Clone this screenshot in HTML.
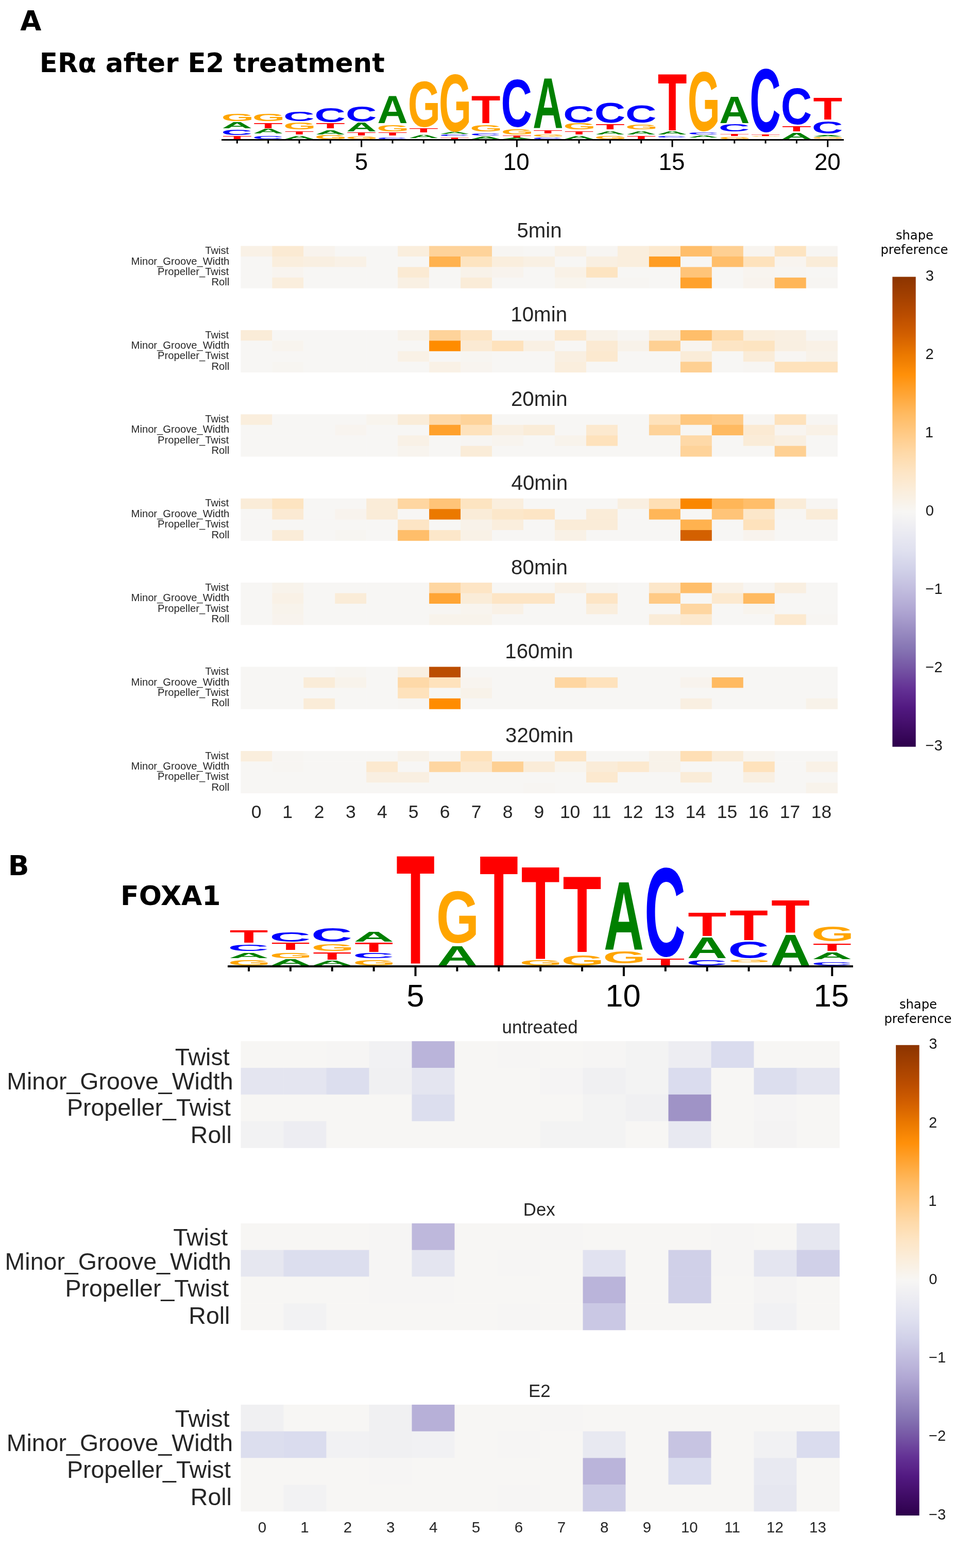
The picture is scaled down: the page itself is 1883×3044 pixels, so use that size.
<!DOCTYPE html>
<html><head><meta charset="utf-8"><title>Figure</title><style>html,body{margin:0;padding:0;background:#fff;}svg{display:block;}</style></head><body>
<svg width="1883" height="3044" viewBox="0 0 1883 3044">
<rect x="0" y="0" width="1883" height="3044" fill="#ffffff"/>
<text x="39.17" y="58.7" font-size="53" font-family="'DejaVu Sans', Verdana, sans-serif" font-weight="bold" text-anchor="start" fill="#000">A</text>
<text x="76.87" y="139.7" font-size="51.4" font-family="'DejaVu Sans', Verdana, sans-serif" font-weight="bold" text-anchor="start" fill="#000">ERα after E2 treatment</text>
<text x="15.69" y="1698.9" font-size="53.5" font-family="'DejaVu Sans', Verdana, sans-serif" font-weight="bold" text-anchor="start" fill="#000">B</text>
<text x="234.12" y="1757.4" font-size="52" font-family="'DejaVu Sans', Verdana, sans-serif" font-weight="bold" text-anchor="start" fill="#000">FOXA1</text>
<text transform="matrix(0.81185 0 0 0.19505 429.65 234.50)" font-size="100" font-family="'Liberation Sans', Arial, sans-serif" font-weight="bold" fill="#ffa500">G</text>
<text transform="matrix(0.81791 0 0 0.16291 430.86 249.30)" font-size="100" font-family="'Liberation Sans', Arial, sans-serif" font-weight="bold" fill="#008000">A</text>
<text transform="matrix(0.83664 0 0 0.14417 429.55 261.56)" font-size="100" font-family="'Liberation Sans', Arial, sans-serif" font-weight="bold" fill="#0000ff">C</text>
<text transform="matrix(0.92881 0 0 0.09164 431.97 269.80)" font-size="100" font-family="'Liberation Sans', Arial, sans-serif" font-weight="bold" fill="#ff0000">T</text>
<text transform="matrix(0.81185 0 0 0.19505 489.99 234.50)" font-size="100" font-family="'Liberation Sans', Arial, sans-serif" font-weight="bold" fill="#ffa500">G</text>
<text transform="matrix(0.92881 0 0 0.14836 492.31 249.30)" font-size="100" font-family="'Liberation Sans', Arial, sans-serif" font-weight="bold" fill="#ff0000">T</text>
<text transform="matrix(0.81791 0 0 0.12073 491.20 259.00)" font-size="100" font-family="'Liberation Sans', Arial, sans-serif" font-weight="bold" fill="#008000">A</text>
<text transform="matrix(0.83664 0 0 0.09470 489.89 269.71)" font-size="100" font-family="'Liberation Sans', Arial, sans-serif" font-weight="bold" fill="#0000ff">C</text>
<text transform="matrix(0.83664 0 0 0.25724 550.23 235.24)" font-size="100" font-family="'Liberation Sans', Arial, sans-serif" font-weight="bold" fill="#0000ff">C</text>
<text transform="matrix(0.81185 0 0 0.19081 550.33 250.51)" font-size="100" font-family="'Liberation Sans', Arial, sans-serif" font-weight="bold" fill="#ffa500">G</text>
<text transform="matrix(0.92881 0 0 0.08436 552.65 260.90)" font-size="100" font-family="'Liberation Sans', Arial, sans-serif" font-weight="bold" fill="#ff0000">T</text>
<text transform="matrix(0.81791 0 0 0.09745 551.54 269.80)" font-size="100" font-family="'Liberation Sans', Arial, sans-serif" font-weight="bold" fill="#008000">A</text>
<text transform="matrix(0.83664 0 0 0.38021 610.57 237.32)" font-size="100" font-family="'Liberation Sans', Arial, sans-serif" font-weight="bold" fill="#0000ff">C</text>
<text transform="matrix(0.92881 0 0 0.14255 612.99 248.60)" font-size="100" font-family="'Liberation Sans', Arial, sans-serif" font-weight="bold" fill="#ff0000">T</text>
<text transform="matrix(0.81791 0 0 0.11636 611.88 261.00)" font-size="100" font-family="'Liberation Sans', Arial, sans-serif" font-weight="bold" fill="#008000">A</text>
<text transform="matrix(0.81185 0 0 0.10035 610.67 269.70)" font-size="100" font-family="'Liberation Sans', Arial, sans-serif" font-weight="bold" fill="#ffa500">G</text>
<text transform="matrix(0.83664 0 0 0.42120 670.91 235.78)" font-size="100" font-family="'Liberation Sans', Arial, sans-serif" font-weight="bold" fill="#0000ff">C</text>
<text transform="matrix(0.81791 0 0 0.23273 672.22 255.10)" font-size="100" font-family="'Liberation Sans', Arial, sans-serif" font-weight="bold" fill="#008000">A</text>
<text transform="matrix(0.92881 0 0 0.08873 673.33 262.70)" font-size="100" font-family="'Liberation Sans', Arial, sans-serif" font-weight="bold" fill="#ff0000">T</text>
<text transform="matrix(0.81185 0 0 0.07350 671.01 269.73)" font-size="100" font-family="'Liberation Sans', Arial, sans-serif" font-weight="bold" fill="#ffa500">G</text>
<text transform="matrix(0.81791 0 0 0.76218 732.56 239.10)" font-size="100" font-family="'Liberation Sans', Arial, sans-serif" font-weight="bold" fill="#008000">A</text>
<text transform="matrix(0.81185 0 0 0.17385 731.35 254.93)" font-size="100" font-family="'Liberation Sans', Arial, sans-serif" font-weight="bold" fill="#ffa500">G</text>
<text transform="matrix(0.92881 0 0 0.08436 733.67 262.70)" font-size="100" font-family="'Liberation Sans', Arial, sans-serif" font-weight="bold" fill="#ff0000">T</text>
<text transform="matrix(0.83664 0 0 0.04240 731.25 269.76)" font-size="100" font-family="'Liberation Sans', Arial, sans-serif" font-weight="bold" fill="#0000ff">C</text>
<text transform="matrix(0.81185 0 0 1.26502 791.69 245.83)" font-size="100" font-family="'Liberation Sans', Arial, sans-serif" font-weight="bold" fill="#ffa500">G</text>
<text transform="matrix(0.92881 0 0 0.11491 794.01 256.90)" font-size="100" font-family="'Liberation Sans', Arial, sans-serif" font-weight="bold" fill="#ff0000">T</text>
<text transform="matrix(0.81791 0 0 0.09455 792.90 267.50)" font-size="100" font-family="'Liberation Sans', Arial, sans-serif" font-weight="bold" fill="#008000">A</text>
<text transform="matrix(0.81185 0 0 1.58304 852.03 253.52)" font-size="100" font-family="'Liberation Sans', Arial, sans-serif" font-weight="bold" fill="#ffa500">G</text>
<text transform="matrix(0.81791 0 0 0.04655 853.24 259.50)" font-size="100" font-family="'Liberation Sans', Arial, sans-serif" font-weight="bold" fill="#008000">A</text>
<text transform="matrix(0.83664 0 0 0.03675 851.93 263.56)" font-size="100" font-family="'Liberation Sans', Arial, sans-serif" font-weight="bold" fill="#0000ff">C</text>
<text transform="matrix(0.92881 0 0 0.04364 854.35 269.80)" font-size="100" font-family="'Liberation Sans', Arial, sans-serif" font-weight="bold" fill="#ff0000">T</text>
<text transform="matrix(0.92881 0 0 0.76218 914.69 239.10)" font-size="100" font-family="'Liberation Sans', Arial, sans-serif" font-weight="bold" fill="#ff0000">T</text>
<text transform="matrix(0.81185 0 0 0.17385 912.37 254.93)" font-size="100" font-family="'Liberation Sans', Arial, sans-serif" font-weight="bold" fill="#ffa500">G</text>
<text transform="matrix(0.83664 0 0 0.06078 912.27 263.04)" font-size="100" font-family="'Liberation Sans', Arial, sans-serif" font-weight="bold" fill="#0000ff">C</text>
<text transform="matrix(0.81791 0 0 0.07564 913.58 269.80)" font-size="100" font-family="'Liberation Sans', Arial, sans-serif" font-weight="bold" fill="#008000">A</text>
<text transform="matrix(0.83664 0 0 1.32580 972.61 245.77)" font-size="100" font-family="'Liberation Sans', Arial, sans-serif" font-weight="bold" fill="#0000ff">C</text>
<text transform="matrix(0.81185 0 0 0.14417 972.71 260.86)" font-size="100" font-family="'Liberation Sans', Arial, sans-serif" font-weight="bold" fill="#ffa500">G</text>
<text transform="matrix(0.92881 0 0 0.06400 975.03 267.50)" font-size="100" font-family="'Liberation Sans', Arial, sans-serif" font-weight="bold" fill="#ff0000">T</text>
<text transform="matrix(0.81791 0 0 0.03345 973.92 269.80)" font-size="100" font-family="'Liberation Sans', Arial, sans-serif" font-weight="bold" fill="#008000">A</text>
<text transform="matrix(0.81791 0 0 1.39636 1034.26 249.30)" font-size="100" font-family="'Liberation Sans', Arial, sans-serif" font-weight="bold" fill="#008000">A</text>
<text transform="matrix(0.92881 0 0 0.08582 1035.37 258.80)" font-size="100" font-family="'Liberation Sans', Arial, sans-serif" font-weight="bold" fill="#ff0000">T</text>
<text transform="matrix(0.81185 0 0 0.06078 1033.05 265.24)" font-size="100" font-family="'Liberation Sans', Arial, sans-serif" font-weight="bold" fill="#ffa500">G</text>
<text transform="matrix(0.83664 0 0 0.04240 1032.95 269.76)" font-size="100" font-family="'Liberation Sans', Arial, sans-serif" font-weight="bold" fill="#0000ff">C</text>
<text transform="matrix(0.83664 0 0 0.46219 1093.29 237.94)" font-size="100" font-family="'Liberation Sans', Arial, sans-serif" font-weight="bold" fill="#0000ff">C</text>
<text transform="matrix(0.81185 0 0 0.16396 1093.39 251.34)" font-size="100" font-family="'Liberation Sans', Arial, sans-serif" font-weight="bold" fill="#ffa500">G</text>
<text transform="matrix(0.92881 0 0 0.09600 1095.71 261.00)" font-size="100" font-family="'Liberation Sans', Arial, sans-serif" font-weight="bold" fill="#ff0000">T</text>
<text transform="matrix(0.81791 0 0 0.09745 1094.60 269.80)" font-size="100" font-family="'Liberation Sans', Arial, sans-serif" font-weight="bold" fill="#008000">A</text>
<text transform="matrix(0.83664 0 0 0.55548 1153.63 237.84)" font-size="100" font-family="'Liberation Sans', Arial, sans-serif" font-weight="bold" fill="#0000ff">C</text>
<text transform="matrix(0.92881 0 0 0.13818 1156.05 250.80)" font-size="100" font-family="'Liberation Sans', Arial, sans-serif" font-weight="bold" fill="#ff0000">T</text>
<text transform="matrix(0.81791 0 0 0.08582 1154.94 261.00)" font-size="100" font-family="'Liberation Sans', Arial, sans-serif" font-weight="bold" fill="#008000">A</text>
<text transform="matrix(0.81185 0 0 0.08339 1153.73 269.72)" font-size="100" font-family="'Liberation Sans', Arial, sans-serif" font-weight="bold" fill="#ffa500">G</text>
<text transform="matrix(0.83664 0 0 0.47350 1213.97 237.93)" font-size="100" font-family="'Liberation Sans', Arial, sans-serif" font-weight="bold" fill="#0000ff">C</text>
<text transform="matrix(0.81185 0 0 0.13428 1214.07 250.67)" font-size="100" font-family="'Liberation Sans', Arial, sans-serif" font-weight="bold" fill="#ffa500">G</text>
<text transform="matrix(0.81791 0 0 0.08582 1215.28 261.00)" font-size="100" font-family="'Liberation Sans', Arial, sans-serif" font-weight="bold" fill="#008000">A</text>
<text transform="matrix(0.92881 0 0 0.09745 1216.39 269.80)" font-size="100" font-family="'Liberation Sans', Arial, sans-serif" font-weight="bold" fill="#ff0000">T</text>
<text transform="matrix(0.92881 0 0 1.57673 1276.73 252.90)" font-size="100" font-family="'Liberation Sans', Arial, sans-serif" font-weight="bold" fill="#ff0000">T</text>
<text transform="matrix(0.81791 0 0 0.08582 1275.62 261.00)" font-size="100" font-family="'Liberation Sans', Arial, sans-serif" font-weight="bold" fill="#008000">A</text>
<text transform="matrix(0.83664 0 0 0.02827 1274.31 266.97)" font-size="100" font-family="'Liberation Sans', Arial, sans-serif" font-weight="bold" fill="#0000ff">C</text>
<text transform="matrix(0.81185 0 0 1.64099 1334.75 253.46)" font-size="100" font-family="'Liberation Sans', Arial, sans-serif" font-weight="bold" fill="#ffa500">G</text>
<text transform="matrix(0.83664 0 0 0.05936 1334.65 261.04)" font-size="100" font-family="'Liberation Sans', Arial, sans-serif" font-weight="bold" fill="#0000ff">C</text>
<text transform="matrix(0.81791 0 0 0.05964 1335.96 267.00)" font-size="100" font-family="'Liberation Sans', Arial, sans-serif" font-weight="bold" fill="#008000">A</text>
<text transform="matrix(0.81791 0 0 0.74327 1396.30 239.00)" font-size="100" font-family="'Liberation Sans', Arial, sans-serif" font-weight="bold" fill="#008000">A</text>
<text transform="matrix(0.83664 0 0 0.21060 1394.99 255.49)" font-size="100" font-family="'Liberation Sans', Arial, sans-serif" font-weight="bold" fill="#0000ff">C</text>
<text transform="matrix(0.92881 0 0 0.06109 1397.41 263.50)" font-size="100" font-family="'Liberation Sans', Arial, sans-serif" font-weight="bold" fill="#ff0000">T</text>
<text transform="matrix(0.81185 0 0 0.04806 1395.09 269.75)" font-size="100" font-family="'Liberation Sans', Arial, sans-serif" font-weight="bold" fill="#ffa500">G</text>
<text transform="matrix(0.83664 0 0 1.74841 1455.33 255.15)" font-size="100" font-family="'Liberation Sans', Arial, sans-serif" font-weight="bold" fill="#0000ff">C</text>
<text transform="matrix(0.92881 0 0 0.03782 1457.75 263.50)" font-size="100" font-family="'Liberation Sans', Arial, sans-serif" font-weight="bold" fill="#ff0000">T</text>
<text transform="matrix(0.81185 0 0 0.02120 1455.43 265.48)" font-size="100" font-family="'Liberation Sans', Arial, sans-serif" font-weight="bold" fill="#ffa500">G</text>
<text transform="matrix(0.83664 0 0 1.01060 1515.67 241.39)" font-size="100" font-family="'Liberation Sans', Arial, sans-serif" font-weight="bold" fill="#0000ff">C</text>
<text transform="matrix(0.92881 0 0 0.15418 1518.09 254.90)" font-size="100" font-family="'Liberation Sans', Arial, sans-serif" font-weight="bold" fill="#ff0000">T</text>
<text transform="matrix(0.81791 0 0 0.15855 1516.98 269.80)" font-size="100" font-family="'Liberation Sans', Arial, sans-serif" font-weight="bold" fill="#008000">A</text>
<text transform="matrix(0.92881 0 0 0.60509 1578.43 232.40)" font-size="100" font-family="'Liberation Sans', Arial, sans-serif" font-weight="bold" fill="#ff0000">T</text>
<text transform="matrix(0.83664 0 0 0.33640 1576.01 258.56)" font-size="100" font-family="'Liberation Sans', Arial, sans-serif" font-weight="bold" fill="#0000ff">C</text>
<text transform="matrix(0.81791 0 0 0.02764 1577.32 264.80)" font-size="100" font-family="'Liberation Sans', Arial, sans-serif" font-weight="bold" fill="#008000">A</text>
<text transform="matrix(0.81185 0 0 0.02827 1576.11 268.77)" font-size="100" font-family="'Liberation Sans', Arial, sans-serif" font-weight="bold" fill="#ffa500">G</text>
<text transform="matrix(1.22881 0 0 0.34909 445.52 1829.80)" font-size="100" font-family="'Liberation Sans', Arial, sans-serif" font-weight="bold" fill="#ff0000">T</text>
<text transform="matrix(1.10687 0 0 0.16961 442.32 1846.43)" font-size="100" font-family="'Liberation Sans', Arial, sans-serif" font-weight="bold" fill="#0000ff">C</text>
<text transform="matrix(1.08209 0 0 0.14982 444.04 1859.70)" font-size="100" font-family="'Liberation Sans', Arial, sans-serif" font-weight="bold" fill="#008000">A</text>
<text transform="matrix(1.07407 0 0 0.14134 442.45 1873.86)" font-size="100" font-family="'Liberation Sans', Arial, sans-serif" font-weight="bold" fill="#ffa500">G</text>
<text transform="matrix(1.10687 0 0 0.25300 523.20 1828.25)" font-size="100" font-family="'Liberation Sans', Arial, sans-serif" font-weight="bold" fill="#0000ff">C</text>
<text transform="matrix(1.22881 0 0 0.20218 526.40 1843.70)" font-size="100" font-family="'Liberation Sans', Arial, sans-serif" font-weight="bold" fill="#ff0000">T</text>
<text transform="matrix(1.07407 0 0 0.15406 523.33 1860.15)" font-size="100" font-family="'Liberation Sans', Arial, sans-serif" font-weight="bold" fill="#ffa500">G</text>
<text transform="matrix(1.08209 0 0 0.16727 524.92 1874.00)" font-size="100" font-family="'Liberation Sans', Arial, sans-serif" font-weight="bold" fill="#008000">A</text>
<text transform="matrix(1.10687 0 0 0.36184 604.08 1828.14)" font-size="100" font-family="'Liberation Sans', Arial, sans-serif" font-weight="bold" fill="#0000ff">C</text>
<text transform="matrix(1.07407 0 0 0.19081 604.21 1845.71)" font-size="100" font-family="'Liberation Sans', Arial, sans-serif" font-weight="bold" fill="#ffa500">G</text>
<text transform="matrix(1.22881 0 0 0.20073 607.28 1862.50)" font-size="100" font-family="'Liberation Sans', Arial, sans-serif" font-weight="bold" fill="#ff0000">T</text>
<text transform="matrix(1.08209 0 0 0.12945 605.80 1874.00)" font-size="100" font-family="'Liberation Sans', Arial, sans-serif" font-weight="bold" fill="#008000">A</text>
<text transform="matrix(1.08209 0 0 0.27927 686.68 1827.60)" font-size="100" font-family="'Liberation Sans', Arial, sans-serif" font-weight="bold" fill="#008000">A</text>
<text transform="matrix(1.22881 0 0 0.25455 688.16 1848.10)" font-size="100" font-family="'Liberation Sans', Arial, sans-serif" font-weight="bold" fill="#ff0000">T</text>
<text transform="matrix(1.10687 0 0 0.15406 684.96 1860.15)" font-size="100" font-family="'Liberation Sans', Arial, sans-serif" font-weight="bold" fill="#0000ff">C</text>
<text transform="matrix(1.07407 0 0 0.14134 685.09 1873.86)" font-size="100" font-family="'Liberation Sans', Arial, sans-serif" font-weight="bold" fill="#ffa500">G</text>
<text transform="matrix(1.22881 0 0 3.02400 769.04 1870.50)" font-size="100" font-family="'Liberation Sans', Arial, sans-serif" font-weight="bold" fill="#ff0000">T</text>
<text transform="matrix(1.07407 0 0 1.43039 846.85 1830.27)" font-size="100" font-family="'Liberation Sans', Arial, sans-serif" font-weight="bold" fill="#ffa500">G</text>
<text transform="matrix(1.08209 0 0 0.52945 848.44 1874.00)" font-size="100" font-family="'Liberation Sans', Arial, sans-serif" font-weight="bold" fill="#008000">A</text>
<text transform="matrix(1.22881 0 0 3.06764 930.80 1874.00)" font-size="100" font-family="'Liberation Sans', Arial, sans-serif" font-weight="bold" fill="#ff0000">T</text>
<text transform="matrix(1.22881 0 0 2.58036 1011.68 1861.40)" font-size="100" font-family="'Liberation Sans', Arial, sans-serif" font-weight="bold" fill="#ff0000">T</text>
<text transform="matrix(1.07407 0 0 0.14417 1008.61 1873.86)" font-size="100" font-family="'Liberation Sans', Arial, sans-serif" font-weight="bold" fill="#ffa500">G</text>
<text transform="matrix(1.22881 0 0 2.11927 1092.56 1848.10)" font-size="100" font-family="'Liberation Sans', Arial, sans-serif" font-weight="bold" fill="#ff0000">T</text>
<text transform="matrix(1.07407 0 0 0.28269 1089.49 1873.72)" font-size="100" font-family="'Liberation Sans', Arial, sans-serif" font-weight="bold" fill="#ffa500">G</text>
<text transform="matrix(1.08209 0 0 1.89673 1171.96 1843.30)" font-size="100" font-family="'Liberation Sans', Arial, sans-serif" font-weight="bold" fill="#008000">A</text>
<text transform="matrix(1.07407 0 0 0.33640 1170.37 1870.36)" font-size="100" font-family="'Liberation Sans', Arial, sans-serif" font-weight="bold" fill="#ffa500">G</text>
<text transform="matrix(1.10687 0 0 2.45654 1251.12 1856.34)" font-size="100" font-family="'Liberation Sans', Arial, sans-serif" font-weight="bold" fill="#0000ff">C</text>
<text transform="matrix(1.22881 0 0 0.17600 1254.32 1874.00)" font-size="100" font-family="'Liberation Sans', Arial, sans-serif" font-weight="bold" fill="#ff0000">T</text>
<text transform="matrix(1.22881 0 0 0.65455 1335.20 1816.70)" font-size="100" font-family="'Liberation Sans', Arial, sans-serif" font-weight="bold" fill="#ff0000">T</text>
<text transform="matrix(1.08209 0 0 0.57891 1333.72 1859.90)" font-size="100" font-family="'Liberation Sans', Arial, sans-serif" font-weight="bold" fill="#008000">A</text>
<text transform="matrix(1.10687 0 0 0.14276 1332.00 1873.86)" font-size="100" font-family="'Liberation Sans', Arial, sans-serif" font-weight="bold" fill="#0000ff">C</text>
<text transform="matrix(1.22881 0 0 0.84073 1416.08 1824.60)" font-size="100" font-family="'Liberation Sans', Arial, sans-serif" font-weight="bold" fill="#ff0000">T</text>
<text transform="matrix(1.10687 0 0 0.46643 1412.88 1860.03)" font-size="100" font-family="'Liberation Sans', Arial, sans-serif" font-weight="bold" fill="#0000ff">C</text>
<text transform="matrix(1.07407 0 0 0.06360 1413.01 1868.34)" font-size="100" font-family="'Liberation Sans', Arial, sans-serif" font-weight="bold" fill="#ffa500">G</text>
<text transform="matrix(1.22881 0 0 0.90618 1496.96 1811.10)" font-size="100" font-family="'Liberation Sans', Arial, sans-serif" font-weight="bold" fill="#ff0000">T</text>
<text transform="matrix(1.08209 0 0 0.84945 1495.48 1874.00)" font-size="100" font-family="'Liberation Sans', Arial, sans-serif" font-weight="bold" fill="#008000">A</text>
<text transform="matrix(1.07407 0 0 0.40707 1574.77 1827.09)" font-size="100" font-family="'Liberation Sans', Arial, sans-serif" font-weight="bold" fill="#ffa500">G</text>
<text transform="matrix(1.22881 0 0 0.20218 1577.84 1845.90)" font-size="100" font-family="'Liberation Sans', Arial, sans-serif" font-weight="bold" fill="#ff0000">T</text>
<text transform="matrix(1.08209 0 0 0.18618 1576.36 1862.10)" font-size="100" font-family="'Liberation Sans', Arial, sans-serif" font-weight="bold" fill="#008000">A</text>
<text transform="matrix(1.10687 0 0 0.09470 1574.64 1873.91)" font-size="100" font-family="'Liberation Sans', Arial, sans-serif" font-weight="bold" fill="#0000ff">C</text>
<rect x="430" y="270" width="1208" height="3" fill="#000"/>
<rect x="458.80" y="272" width="3" height="6.5" fill="#000"/>
<rect x="519.14" y="272" width="3" height="6.5" fill="#000"/>
<rect x="579.48" y="272" width="3" height="6.5" fill="#000"/>
<rect x="639.82" y="272" width="3" height="6.5" fill="#000"/>
<rect x="700.16" y="272" width="3" height="13.5" fill="#000"/>
<rect x="760.50" y="272" width="3" height="6.5" fill="#000"/>
<rect x="820.84" y="272" width="3" height="6.5" fill="#000"/>
<rect x="881.18" y="272" width="3" height="6.5" fill="#000"/>
<rect x="941.52" y="272" width="3" height="6.5" fill="#000"/>
<rect x="1001.86" y="272" width="3" height="13.5" fill="#000"/>
<rect x="1062.20" y="272" width="3" height="6.5" fill="#000"/>
<rect x="1122.54" y="272" width="3" height="6.5" fill="#000"/>
<rect x="1182.88" y="272" width="3" height="6.5" fill="#000"/>
<rect x="1243.22" y="272" width="3" height="6.5" fill="#000"/>
<rect x="1303.56" y="272" width="3" height="13.5" fill="#000"/>
<rect x="1363.90" y="272" width="3" height="6.5" fill="#000"/>
<rect x="1424.24" y="272" width="3" height="6.5" fill="#000"/>
<rect x="1484.58" y="272" width="3" height="6.5" fill="#000"/>
<rect x="1544.92" y="272" width="3" height="6.5" fill="#000"/>
<rect x="1605.26" y="272" width="3" height="13.5" fill="#000"/>
<text x="688.84" y="330.2" font-size="45.8" font-family="'Liberation Sans', Arial, sans-serif" font-weight="normal" text-anchor="start" fill="#000">5</text>
<text x="976.8" y="330.2" font-size="45.8" font-family="'Liberation Sans', Arial, sans-serif" font-weight="normal" text-anchor="start" fill="#000">10</text>
<text x="1278.5" y="330.2" font-size="45.8" font-family="'Liberation Sans', Arial, sans-serif" font-weight="normal" text-anchor="start" fill="#000">15</text>
<text x="1580.88" y="330.2" font-size="45.8" font-family="'Liberation Sans', Arial, sans-serif" font-weight="normal" text-anchor="start" fill="#000">20</text>
<rect x="442" y="1874" width="1214" height="4" fill="#000"/>
<rect x="481.00" y="1877" width="4" height="8.7" fill="#000"/>
<rect x="561.88" y="1877" width="4" height="8.7" fill="#000"/>
<rect x="642.76" y="1877" width="4" height="8.7" fill="#000"/>
<rect x="723.64" y="1877" width="4" height="8.7" fill="#000"/>
<rect x="804.52" y="1877" width="4" height="18" fill="#000"/>
<rect x="885.40" y="1877" width="4" height="8.7" fill="#000"/>
<rect x="966.28" y="1877" width="4" height="8.7" fill="#000"/>
<rect x="1047.16" y="1877" width="4" height="8.7" fill="#000"/>
<rect x="1128.04" y="1877" width="4" height="8.7" fill="#000"/>
<rect x="1208.92" y="1877" width="4" height="18" fill="#000"/>
<rect x="1289.80" y="1877" width="4" height="8.7" fill="#000"/>
<rect x="1370.68" y="1877" width="4" height="8.7" fill="#000"/>
<rect x="1451.56" y="1877" width="4" height="8.7" fill="#000"/>
<rect x="1532.44" y="1877" width="4" height="8.7" fill="#000"/>
<rect x="1613.32" y="1877" width="4" height="18" fill="#000"/>
<text x="789.3" y="1954.4" font-size="61.5" font-family="'Liberation Sans', Arial, sans-serif" font-weight="normal" text-anchor="start" fill="#000">5</text>
<text x="1175.25" y="1954.4" font-size="61.5" font-family="'Liberation Sans', Arial, sans-serif" font-weight="normal" text-anchor="start" fill="#000">10</text>
<text x="1579.65" y="1954.4" font-size="61.5" font-family="'Liberation Sans', Arial, sans-serif" font-weight="normal" text-anchor="start" fill="#000">15</text>
<rect x="467.30" y="477.50" width="61.37" height="20.85" fill="#f9f1e6"/>
<rect x="528.27" y="477.50" width="61.37" height="20.85" fill="#fbead3"/>
<rect x="589.24" y="477.50" width="61.37" height="20.85" fill="#f8f3ed"/>
<rect x="650.21" y="477.50" width="61.37" height="20.85" fill="#f7f6f4"/>
<rect x="711.18" y="477.50" width="61.37" height="20.85" fill="#f7f6f4"/>
<rect x="772.15" y="477.50" width="61.37" height="20.85" fill="#faeedd"/>
<rect x="833.12" y="477.50" width="61.37" height="20.85" fill="#fed39a"/>
<rect x="894.09" y="477.50" width="61.37" height="20.85" fill="#fed39a"/>
<rect x="955.06" y="477.50" width="61.37" height="20.85" fill="#f7f5f2"/>
<rect x="1016.03" y="477.50" width="61.37" height="20.85" fill="#f7f6f4"/>
<rect x="1077.00" y="477.50" width="61.37" height="20.85" fill="#f9f1e6"/>
<rect x="1137.97" y="477.50" width="61.37" height="20.85" fill="#f7f5f2"/>
<rect x="1198.94" y="477.50" width="61.37" height="20.85" fill="#faeedd"/>
<rect x="1259.91" y="477.50" width="61.37" height="20.85" fill="#fce9cf"/>
<rect x="1320.88" y="477.50" width="61.37" height="20.85" fill="#ffbe6a"/>
<rect x="1381.85" y="477.50" width="61.37" height="20.85" fill="#fed093"/>
<rect x="1442.82" y="477.50" width="61.37" height="20.85" fill="#f8f4ef"/>
<rect x="1503.79" y="477.50" width="61.37" height="20.85" fill="#fde4c1"/>
<rect x="1564.76" y="477.50" width="61.37" height="20.85" fill="#f7f5f2"/>
<rect x="467.30" y="497.95" width="61.37" height="20.85" fill="#f7f6f4"/>
<rect x="528.27" y="497.95" width="61.37" height="20.85" fill="#faeedd"/>
<rect x="589.24" y="497.95" width="61.37" height="20.85" fill="#f9efe1"/>
<rect x="650.21" y="497.95" width="61.37" height="20.85" fill="#f9f1e6"/>
<rect x="711.18" y="497.95" width="61.37" height="20.85" fill="#f7f6f4"/>
<rect x="772.15" y="497.95" width="61.37" height="20.85" fill="#f7f6f4"/>
<rect x="833.12" y="497.95" width="61.37" height="20.85" fill="#ffb24f"/>
<rect x="894.09" y="497.95" width="61.37" height="20.85" fill="#fde4c1"/>
<rect x="955.06" y="497.95" width="61.37" height="20.85" fill="#faeedd"/>
<rect x="1016.03" y="497.95" width="61.37" height="20.85" fill="#f9f0e3"/>
<rect x="1077.00" y="497.95" width="61.37" height="20.85" fill="#f7f6f4"/>
<rect x="1137.97" y="497.95" width="61.37" height="20.85" fill="#f9efe1"/>
<rect x="1198.94" y="497.95" width="61.37" height="20.85" fill="#faeedd"/>
<rect x="1259.91" y="497.95" width="61.37" height="20.85" fill="#ff9d23"/>
<rect x="1320.88" y="497.95" width="61.37" height="20.85" fill="#f7f6f4"/>
<rect x="1381.85" y="497.95" width="61.37" height="20.85" fill="#ffbe6a"/>
<rect x="1442.82" y="497.95" width="61.37" height="20.85" fill="#fee2bc"/>
<rect x="1503.79" y="497.95" width="61.37" height="20.85" fill="#f8f4ef"/>
<rect x="1564.76" y="497.95" width="61.37" height="20.85" fill="#faecd8"/>
<rect x="467.30" y="518.40" width="61.37" height="20.85" fill="#f7f6f4"/>
<rect x="528.27" y="518.40" width="61.37" height="20.85" fill="#f8f4ef"/>
<rect x="589.24" y="518.40" width="61.37" height="20.85" fill="#f7f6f4"/>
<rect x="650.21" y="518.40" width="61.37" height="20.85" fill="#f7f6f4"/>
<rect x="711.18" y="518.40" width="61.37" height="20.85" fill="#f7f6f4"/>
<rect x="772.15" y="518.40" width="61.37" height="20.85" fill="#fbead3"/>
<rect x="833.12" y="518.40" width="61.37" height="20.85" fill="#f7f6f4"/>
<rect x="894.09" y="518.40" width="61.37" height="20.85" fill="#f8f2e9"/>
<rect x="955.06" y="518.40" width="61.37" height="20.85" fill="#f8f3ed"/>
<rect x="1016.03" y="518.40" width="61.37" height="20.85" fill="#f7f6f4"/>
<rect x="1077.00" y="518.40" width="61.37" height="20.85" fill="#f9f1e6"/>
<rect x="1137.97" y="518.40" width="61.37" height="20.85" fill="#fde4c1"/>
<rect x="1198.94" y="518.40" width="61.37" height="20.85" fill="#f7f6f4"/>
<rect x="1259.91" y="518.40" width="61.37" height="20.85" fill="#f7f6f4"/>
<rect x="1320.88" y="518.40" width="61.37" height="20.85" fill="#ffc478"/>
<rect x="1381.85" y="518.40" width="61.37" height="20.85" fill="#f7f6f4"/>
<rect x="1442.82" y="518.40" width="61.37" height="20.85" fill="#f8f4ef"/>
<rect x="1503.79" y="518.40" width="61.37" height="20.85" fill="#f7f5f2"/>
<rect x="1564.76" y="518.40" width="61.37" height="20.85" fill="#f7f6f4"/>
<rect x="467.30" y="538.85" width="61.37" height="20.85" fill="#f7f6f4"/>
<rect x="528.27" y="538.85" width="61.37" height="20.85" fill="#faeedd"/>
<rect x="589.24" y="538.85" width="61.37" height="20.85" fill="#f7f6f4"/>
<rect x="650.21" y="538.85" width="61.37" height="20.85" fill="#f7f6f4"/>
<rect x="711.18" y="538.85" width="61.37" height="20.85" fill="#f7f6f4"/>
<rect x="772.15" y="538.85" width="61.37" height="20.85" fill="#f9f0e3"/>
<rect x="833.12" y="538.85" width="61.37" height="20.85" fill="#f7f6f4"/>
<rect x="894.09" y="538.85" width="61.37" height="20.85" fill="#faecd8"/>
<rect x="955.06" y="538.85" width="61.37" height="20.85" fill="#f7f6f4"/>
<rect x="1016.03" y="538.85" width="61.37" height="20.85" fill="#f7f6f4"/>
<rect x="1077.00" y="538.85" width="61.37" height="20.85" fill="#f8f4ed"/>
<rect x="1137.97" y="538.85" width="61.37" height="20.85" fill="#f7f5f2"/>
<rect x="1198.94" y="538.85" width="61.37" height="20.85" fill="#f7f5f2"/>
<rect x="1259.91" y="538.85" width="61.37" height="20.85" fill="#f7f6f4"/>
<rect x="1320.88" y="538.85" width="61.37" height="20.85" fill="#ffa12c"/>
<rect x="1381.85" y="538.85" width="61.37" height="20.85" fill="#f7f6f4"/>
<rect x="1442.82" y="538.85" width="61.37" height="20.85" fill="#f8f3ed"/>
<rect x="1503.79" y="538.85" width="61.37" height="20.85" fill="#ffb658"/>
<rect x="1564.76" y="538.85" width="61.37" height="20.85" fill="#f7f5f2"/>
<text x="1003.39" y="461" font-size="40.3" font-family="'Liberation Sans', Arial, sans-serif" font-weight="normal" text-anchor="start" fill="#262626">5min</text>
<text x="444.16" y="493.12" font-size="20.2" font-family="'Liberation Sans', Arial, sans-serif" font-weight="normal" text-anchor="end" fill="#262626">Twist</text>
<text x="445.37" y="513.58" font-size="20.2" font-family="'Liberation Sans', Arial, sans-serif" font-weight="normal" text-anchor="end" fill="#262626">Minor_Groove_Width</text>
<text x="444.11" y="534.02" font-size="20.2" font-family="'Liberation Sans', Arial, sans-serif" font-weight="normal" text-anchor="end" fill="#262626">Propeller_Twist</text>
<text x="445.27" y="554.48" font-size="20.2" font-family="'Liberation Sans', Arial, sans-serif" font-weight="normal" text-anchor="end" fill="#262626">Roll</text>
<rect x="467.30" y="640.90" width="61.37" height="20.85" fill="#faecd8"/>
<rect x="528.27" y="640.90" width="61.37" height="20.85" fill="#f7f6f4"/>
<rect x="589.24" y="640.90" width="61.37" height="20.85" fill="#f7f6f4"/>
<rect x="650.21" y="640.90" width="61.37" height="20.85" fill="#f7f6f4"/>
<rect x="711.18" y="640.90" width="61.37" height="20.85" fill="#f7f6f4"/>
<rect x="772.15" y="640.90" width="61.37" height="20.85" fill="#f8f2e9"/>
<rect x="833.12" y="640.90" width="61.37" height="20.85" fill="#fed39a"/>
<rect x="894.09" y="640.90" width="61.37" height="20.85" fill="#fde5c5"/>
<rect x="955.06" y="640.90" width="61.37" height="20.85" fill="#f7f6f4"/>
<rect x="1016.03" y="640.90" width="61.37" height="20.85" fill="#f7f6f4"/>
<rect x="1077.00" y="640.90" width="61.37" height="20.85" fill="#fce9cf"/>
<rect x="1137.97" y="640.90" width="61.37" height="20.85" fill="#f8f2e9"/>
<rect x="1198.94" y="640.90" width="61.37" height="20.85" fill="#f7f5f2"/>
<rect x="1259.91" y="640.90" width="61.37" height="20.85" fill="#faecd8"/>
<rect x="1320.88" y="640.90" width="61.37" height="20.85" fill="#ffbe6a"/>
<rect x="1381.85" y="640.90" width="61.37" height="20.85" fill="#fedcae"/>
<rect x="1442.82" y="640.90" width="61.37" height="20.85" fill="#faeedd"/>
<rect x="1503.79" y="640.90" width="61.37" height="20.85" fill="#f9efe1"/>
<rect x="1564.76" y="640.90" width="61.37" height="20.85" fill="#f7f5f2"/>
<rect x="467.30" y="661.35" width="61.37" height="20.85" fill="#f7f6f4"/>
<rect x="528.27" y="661.35" width="61.37" height="20.85" fill="#f8f4ee"/>
<rect x="589.24" y="661.35" width="61.37" height="20.85" fill="#f7f6f4"/>
<rect x="650.21" y="661.35" width="61.37" height="20.85" fill="#f7f6f4"/>
<rect x="711.18" y="661.35" width="61.37" height="20.85" fill="#f7f6f4"/>
<rect x="772.15" y="661.35" width="61.37" height="20.85" fill="#f7f6f4"/>
<rect x="833.12" y="661.35" width="61.37" height="20.85" fill="#ff8c00"/>
<rect x="894.09" y="661.35" width="61.37" height="20.85" fill="#fbead3"/>
<rect x="955.06" y="661.35" width="61.37" height="20.85" fill="#fee2bc"/>
<rect x="1016.03" y="661.35" width="61.37" height="20.85" fill="#f9f0e3"/>
<rect x="1077.00" y="661.35" width="61.37" height="20.85" fill="#f7f6f4"/>
<rect x="1137.97" y="661.35" width="61.37" height="20.85" fill="#fbead3"/>
<rect x="1198.94" y="661.35" width="61.37" height="20.85" fill="#f8f2e9"/>
<rect x="1259.91" y="661.35" width="61.37" height="20.85" fill="#fed093"/>
<rect x="1320.88" y="661.35" width="61.37" height="20.85" fill="#f8f4ef"/>
<rect x="1381.85" y="661.35" width="61.37" height="20.85" fill="#fde5c5"/>
<rect x="1442.82" y="661.35" width="61.37" height="20.85" fill="#fde4c1"/>
<rect x="1503.79" y="661.35" width="61.37" height="20.85" fill="#f9efe1"/>
<rect x="1564.76" y="661.35" width="61.37" height="20.85" fill="#f9f1e6"/>
<rect x="467.30" y="681.80" width="61.37" height="20.85" fill="#f7f6f4"/>
<rect x="528.27" y="681.80" width="61.37" height="20.85" fill="#f7f6f4"/>
<rect x="589.24" y="681.80" width="61.37" height="20.85" fill="#f7f6f4"/>
<rect x="650.21" y="681.80" width="61.37" height="20.85" fill="#f7f6f4"/>
<rect x="711.18" y="681.80" width="61.37" height="20.85" fill="#f7f6f4"/>
<rect x="772.15" y="681.80" width="61.37" height="20.85" fill="#f9f1e6"/>
<rect x="833.12" y="681.80" width="61.37" height="20.85" fill="#f7f6f4"/>
<rect x="894.09" y="681.80" width="61.37" height="20.85" fill="#f7f5f1"/>
<rect x="955.06" y="681.80" width="61.37" height="20.85" fill="#f7f6f4"/>
<rect x="1016.03" y="681.80" width="61.37" height="20.85" fill="#f7f6f4"/>
<rect x="1077.00" y="681.80" width="61.37" height="20.85" fill="#f9efe1"/>
<rect x="1137.97" y="681.80" width="61.37" height="20.85" fill="#fce9cf"/>
<rect x="1198.94" y="681.80" width="61.37" height="20.85" fill="#f7f6f4"/>
<rect x="1259.91" y="681.80" width="61.37" height="20.85" fill="#f7f6f4"/>
<rect x="1320.88" y="681.80" width="61.37" height="20.85" fill="#faecd8"/>
<rect x="1381.85" y="681.80" width="61.37" height="20.85" fill="#f7f6f4"/>
<rect x="1442.82" y="681.80" width="61.37" height="20.85" fill="#faecd8"/>
<rect x="1503.79" y="681.80" width="61.37" height="20.85" fill="#f7f5f2"/>
<rect x="1564.76" y="681.80" width="61.37" height="20.85" fill="#f8f2e9"/>
<rect x="467.30" y="702.25" width="61.37" height="20.85" fill="#f7f6f4"/>
<rect x="528.27" y="702.25" width="61.37" height="20.85" fill="#f7f5f1"/>
<rect x="589.24" y="702.25" width="61.37" height="20.85" fill="#f7f6f4"/>
<rect x="650.21" y="702.25" width="61.37" height="20.85" fill="#f7f6f4"/>
<rect x="711.18" y="702.25" width="61.37" height="20.85" fill="#f7f6f4"/>
<rect x="772.15" y="702.25" width="61.37" height="20.85" fill="#f7f6f4"/>
<rect x="833.12" y="702.25" width="61.37" height="20.85" fill="#f9f1e6"/>
<rect x="894.09" y="702.25" width="61.37" height="20.85" fill="#f8f4ef"/>
<rect x="955.06" y="702.25" width="61.37" height="20.85" fill="#f7f6f4"/>
<rect x="1016.03" y="702.25" width="61.37" height="20.85" fill="#f7f6f4"/>
<rect x="1077.00" y="702.25" width="61.37" height="20.85" fill="#faeedd"/>
<rect x="1137.97" y="702.25" width="61.37" height="20.85" fill="#f7f6f4"/>
<rect x="1198.94" y="702.25" width="61.37" height="20.85" fill="#f7f6f4"/>
<rect x="1259.91" y="702.25" width="61.37" height="20.85" fill="#f7f6f4"/>
<rect x="1320.88" y="702.25" width="61.37" height="20.85" fill="#fed093"/>
<rect x="1381.85" y="702.25" width="61.37" height="20.85" fill="#f7f6f4"/>
<rect x="1442.82" y="702.25" width="61.37" height="20.85" fill="#f7f5f2"/>
<rect x="1503.79" y="702.25" width="61.37" height="20.85" fill="#fee2bc"/>
<rect x="1564.76" y="702.25" width="61.37" height="20.85" fill="#fee2bc"/>
<text x="991.3" y="624.4" font-size="40.3" font-family="'Liberation Sans', Arial, sans-serif" font-weight="normal" text-anchor="start" fill="#262626">10min</text>
<text x="444.16" y="656.52" font-size="20.2" font-family="'Liberation Sans', Arial, sans-serif" font-weight="normal" text-anchor="end" fill="#262626">Twist</text>
<text x="445.37" y="676.98" font-size="20.2" font-family="'Liberation Sans', Arial, sans-serif" font-weight="normal" text-anchor="end" fill="#262626">Minor_Groove_Width</text>
<text x="444.11" y="697.42" font-size="20.2" font-family="'Liberation Sans', Arial, sans-serif" font-weight="normal" text-anchor="end" fill="#262626">Propeller_Twist</text>
<text x="445.27" y="717.88" font-size="20.2" font-family="'Liberation Sans', Arial, sans-serif" font-weight="normal" text-anchor="end" fill="#262626">Roll</text>
<rect x="467.30" y="804.30" width="61.37" height="20.85" fill="#faeedd"/>
<rect x="528.27" y="804.30" width="61.37" height="20.85" fill="#f7f6f4"/>
<rect x="589.24" y="804.30" width="61.37" height="20.85" fill="#f7f6f4"/>
<rect x="650.21" y="804.30" width="61.37" height="20.85" fill="#f7f6f4"/>
<rect x="711.18" y="804.30" width="61.37" height="20.85" fill="#f8f4ed"/>
<rect x="772.15" y="804.30" width="61.37" height="20.85" fill="#faecd8"/>
<rect x="833.12" y="804.30" width="61.37" height="20.85" fill="#fed9a8"/>
<rect x="894.09" y="804.30" width="61.37" height="20.85" fill="#fed39a"/>
<rect x="955.06" y="804.30" width="61.37" height="20.85" fill="#f7f6f4"/>
<rect x="1016.03" y="804.30" width="61.37" height="20.85" fill="#f7f6f4"/>
<rect x="1077.00" y="804.30" width="61.37" height="20.85" fill="#f7f6f4"/>
<rect x="1137.97" y="804.30" width="61.37" height="20.85" fill="#f7f6f4"/>
<rect x="1198.94" y="804.30" width="61.37" height="20.85" fill="#f7f6f4"/>
<rect x="1259.91" y="804.30" width="61.37" height="20.85" fill="#fee2bc"/>
<rect x="1320.88" y="804.30" width="61.37" height="20.85" fill="#ffc77e"/>
<rect x="1381.85" y="804.30" width="61.37" height="20.85" fill="#ffca85"/>
<rect x="1442.82" y="804.30" width="61.37" height="20.85" fill="#f7f5f2"/>
<rect x="1503.79" y="804.30" width="61.37" height="20.85" fill="#fee2bc"/>
<rect x="1564.76" y="804.30" width="61.37" height="20.85" fill="#f7f5f2"/>
<rect x="467.30" y="824.75" width="61.37" height="20.85" fill="#f7f6f4"/>
<rect x="528.27" y="824.75" width="61.37" height="20.85" fill="#f7f6f4"/>
<rect x="589.24" y="824.75" width="61.37" height="20.85" fill="#f7f6f4"/>
<rect x="650.21" y="824.75" width="61.37" height="20.85" fill="#f8f4ef"/>
<rect x="711.18" y="824.75" width="61.37" height="20.85" fill="#f7f6f4"/>
<rect x="772.15" y="824.75" width="61.37" height="20.85" fill="#f7f6f4"/>
<rect x="833.12" y="824.75" width="61.37" height="20.85" fill="#ffa12c"/>
<rect x="894.09" y="824.75" width="61.37" height="20.85" fill="#fee2bc"/>
<rect x="955.06" y="824.75" width="61.37" height="20.85" fill="#f9efe1"/>
<rect x="1016.03" y="824.75" width="61.37" height="20.85" fill="#faecd8"/>
<rect x="1077.00" y="824.75" width="61.37" height="20.85" fill="#f7f6f4"/>
<rect x="1137.97" y="824.75" width="61.37" height="20.85" fill="#fce9cf"/>
<rect x="1198.94" y="824.75" width="61.37" height="20.85" fill="#f7f6f4"/>
<rect x="1259.91" y="824.75" width="61.37" height="20.85" fill="#fed39a"/>
<rect x="1320.88" y="824.75" width="61.37" height="20.85" fill="#f7f5f2"/>
<rect x="1381.85" y="824.75" width="61.37" height="20.85" fill="#ffba61"/>
<rect x="1442.82" y="824.75" width="61.37" height="20.85" fill="#fbead3"/>
<rect x="1503.79" y="824.75" width="61.37" height="20.85" fill="#f8f4ef"/>
<rect x="1564.76" y="824.75" width="61.37" height="20.85" fill="#f9f1e6"/>
<rect x="467.30" y="845.20" width="61.37" height="20.85" fill="#f7f6f4"/>
<rect x="528.27" y="845.20" width="61.37" height="20.85" fill="#f7f6f4"/>
<rect x="589.24" y="845.20" width="61.37" height="20.85" fill="#f7f6f4"/>
<rect x="650.21" y="845.20" width="61.37" height="20.85" fill="#f7f6f4"/>
<rect x="711.18" y="845.20" width="61.37" height="20.85" fill="#f7f6f4"/>
<rect x="772.15" y="845.20" width="61.37" height="20.85" fill="#f9f1e6"/>
<rect x="833.12" y="845.20" width="61.37" height="20.85" fill="#f7f6f4"/>
<rect x="894.09" y="845.20" width="61.37" height="20.85" fill="#f7f5f2"/>
<rect x="955.06" y="845.20" width="61.37" height="20.85" fill="#f8f4ee"/>
<rect x="1016.03" y="845.20" width="61.37" height="20.85" fill="#f7f6f4"/>
<rect x="1077.00" y="845.20" width="61.37" height="20.85" fill="#f8f3eb"/>
<rect x="1137.97" y="845.20" width="61.37" height="20.85" fill="#fee2bc"/>
<rect x="1198.94" y="845.20" width="61.37" height="20.85" fill="#f7f6f4"/>
<rect x="1259.91" y="845.20" width="61.37" height="20.85" fill="#f7f6f4"/>
<rect x="1320.88" y="845.20" width="61.37" height="20.85" fill="#fed9a8"/>
<rect x="1381.85" y="845.20" width="61.37" height="20.85" fill="#f7f6f4"/>
<rect x="1442.82" y="845.20" width="61.37" height="20.85" fill="#faecd8"/>
<rect x="1503.79" y="845.20" width="61.37" height="20.85" fill="#f9efe1"/>
<rect x="1564.76" y="845.20" width="61.37" height="20.85" fill="#f7f6f4"/>
<rect x="467.30" y="865.65" width="61.37" height="20.85" fill="#f7f6f4"/>
<rect x="528.27" y="865.65" width="61.37" height="20.85" fill="#f7f6f4"/>
<rect x="589.24" y="865.65" width="61.37" height="20.85" fill="#f7f6f4"/>
<rect x="650.21" y="865.65" width="61.37" height="20.85" fill="#f7f6f4"/>
<rect x="711.18" y="865.65" width="61.37" height="20.85" fill="#f7f6f4"/>
<rect x="772.15" y="865.65" width="61.37" height="20.85" fill="#f8f4ee"/>
<rect x="833.12" y="865.65" width="61.37" height="20.85" fill="#f7f6f4"/>
<rect x="894.09" y="865.65" width="61.37" height="20.85" fill="#faecd8"/>
<rect x="955.06" y="865.65" width="61.37" height="20.85" fill="#f7f6f4"/>
<rect x="1016.03" y="865.65" width="61.37" height="20.85" fill="#f7f6f4"/>
<rect x="1077.00" y="865.65" width="61.37" height="20.85" fill="#f7f6f4"/>
<rect x="1137.97" y="865.65" width="61.37" height="20.85" fill="#f7f6f4"/>
<rect x="1198.94" y="865.65" width="61.37" height="20.85" fill="#f7f6f4"/>
<rect x="1259.91" y="865.65" width="61.37" height="20.85" fill="#f7f6f4"/>
<rect x="1320.88" y="865.65" width="61.37" height="20.85" fill="#fed39a"/>
<rect x="1381.85" y="865.65" width="61.37" height="20.85" fill="#f7f6f4"/>
<rect x="1442.82" y="865.65" width="61.37" height="20.85" fill="#f7f6f4"/>
<rect x="1503.79" y="865.65" width="61.37" height="20.85" fill="#fed093"/>
<rect x="1564.76" y="865.65" width="61.37" height="20.85" fill="#f7f6f4"/>
<text x="991.91" y="787.8" font-size="40.3" font-family="'Liberation Sans', Arial, sans-serif" font-weight="normal" text-anchor="start" fill="#262626">20min</text>
<text x="444.16" y="819.92" font-size="20.2" font-family="'Liberation Sans', Arial, sans-serif" font-weight="normal" text-anchor="end" fill="#262626">Twist</text>
<text x="445.37" y="840.38" font-size="20.2" font-family="'Liberation Sans', Arial, sans-serif" font-weight="normal" text-anchor="end" fill="#262626">Minor_Groove_Width</text>
<text x="444.11" y="860.82" font-size="20.2" font-family="'Liberation Sans', Arial, sans-serif" font-weight="normal" text-anchor="end" fill="#262626">Propeller_Twist</text>
<text x="445.27" y="881.27" font-size="20.2" font-family="'Liberation Sans', Arial, sans-serif" font-weight="normal" text-anchor="end" fill="#262626">Roll</text>
<rect x="467.30" y="967.70" width="61.37" height="20.85" fill="#faecd8"/>
<rect x="528.27" y="967.70" width="61.37" height="20.85" fill="#fde4c1"/>
<rect x="589.24" y="967.70" width="61.37" height="20.85" fill="#f7f6f4"/>
<rect x="650.21" y="967.70" width="61.37" height="20.85" fill="#f7f6f4"/>
<rect x="711.18" y="967.70" width="61.37" height="20.85" fill="#faecd8"/>
<rect x="772.15" y="967.70" width="61.37" height="20.85" fill="#fed6a1"/>
<rect x="833.12" y="967.70" width="61.37" height="20.85" fill="#ffc478"/>
<rect x="894.09" y="967.70" width="61.37" height="20.85" fill="#fde4c1"/>
<rect x="955.06" y="967.70" width="61.37" height="20.85" fill="#faeedd"/>
<rect x="1016.03" y="967.70" width="61.37" height="20.85" fill="#f7f6f4"/>
<rect x="1077.00" y="967.70" width="61.37" height="20.85" fill="#f7f6f4"/>
<rect x="1137.97" y="967.70" width="61.37" height="20.85" fill="#f7f6f4"/>
<rect x="1198.94" y="967.70" width="61.37" height="20.85" fill="#f9efe1"/>
<rect x="1259.91" y="967.70" width="61.37" height="20.85" fill="#fedfb5"/>
<rect x="1320.88" y="967.70" width="61.37" height="20.85" fill="#fa8700"/>
<rect x="1381.85" y="967.70" width="61.37" height="20.85" fill="#ffb658"/>
<rect x="1442.82" y="967.70" width="61.37" height="20.85" fill="#ffbe6a"/>
<rect x="1503.79" y="967.70" width="61.37" height="20.85" fill="#faecd8"/>
<rect x="1564.76" y="967.70" width="61.37" height="20.85" fill="#f7f5f2"/>
<rect x="467.30" y="988.15" width="61.37" height="20.85" fill="#f7f6f4"/>
<rect x="528.27" y="988.15" width="61.37" height="20.85" fill="#fbead3"/>
<rect x="589.24" y="988.15" width="61.37" height="20.85" fill="#f7f6f4"/>
<rect x="650.21" y="988.15" width="61.37" height="20.85" fill="#f8f3ed"/>
<rect x="711.18" y="988.15" width="61.37" height="20.85" fill="#faecd8"/>
<rect x="772.15" y="988.15" width="61.37" height="20.85" fill="#f7f6f4"/>
<rect x="833.12" y="988.15" width="61.37" height="20.85" fill="#eb7900"/>
<rect x="894.09" y="988.15" width="61.37" height="20.85" fill="#faecd8"/>
<rect x="955.06" y="988.15" width="61.37" height="20.85" fill="#fce7ca"/>
<rect x="1016.03" y="988.15" width="61.37" height="20.85" fill="#fde5c5"/>
<rect x="1077.00" y="988.15" width="61.37" height="20.85" fill="#f7f6f4"/>
<rect x="1137.97" y="988.15" width="61.37" height="20.85" fill="#faecd8"/>
<rect x="1198.94" y="988.15" width="61.37" height="20.85" fill="#f7f6f4"/>
<rect x="1259.91" y="988.15" width="61.37" height="20.85" fill="#ffb658"/>
<rect x="1320.88" y="988.15" width="61.37" height="20.85" fill="#f7f6f4"/>
<rect x="1381.85" y="988.15" width="61.37" height="20.85" fill="#ffc478"/>
<rect x="1442.82" y="988.15" width="61.37" height="20.85" fill="#fce7ca"/>
<rect x="1503.79" y="988.15" width="61.37" height="20.85" fill="#f7f5f2"/>
<rect x="1564.76" y="988.15" width="61.37" height="20.85" fill="#faecd8"/>
<rect x="467.30" y="1008.60" width="61.37" height="20.85" fill="#f7f6f4"/>
<rect x="528.27" y="1008.60" width="61.37" height="20.85" fill="#f7f6f4"/>
<rect x="589.24" y="1008.60" width="61.37" height="20.85" fill="#f7f6f4"/>
<rect x="650.21" y="1008.60" width="61.37" height="20.85" fill="#f7f6f4"/>
<rect x="711.18" y="1008.60" width="61.37" height="20.85" fill="#f7f6f4"/>
<rect x="772.15" y="1008.60" width="61.37" height="20.85" fill="#fde5c5"/>
<rect x="833.12" y="1008.60" width="61.37" height="20.85" fill="#f7f6f4"/>
<rect x="894.09" y="1008.60" width="61.37" height="20.85" fill="#f8f2e9"/>
<rect x="955.06" y="1008.60" width="61.37" height="20.85" fill="#faeedd"/>
<rect x="1016.03" y="1008.60" width="61.37" height="20.85" fill="#f7f6f4"/>
<rect x="1077.00" y="1008.60" width="61.37" height="20.85" fill="#faecd8"/>
<rect x="1137.97" y="1008.60" width="61.37" height="20.85" fill="#faecd8"/>
<rect x="1198.94" y="1008.60" width="61.37" height="20.85" fill="#f7f6f4"/>
<rect x="1259.91" y="1008.60" width="61.37" height="20.85" fill="#f7f6f4"/>
<rect x="1320.88" y="1008.60" width="61.37" height="20.85" fill="#ffb24f"/>
<rect x="1381.85" y="1008.60" width="61.37" height="20.85" fill="#f7f6f4"/>
<rect x="1442.82" y="1008.60" width="61.37" height="20.85" fill="#fee2bc"/>
<rect x="1503.79" y="1008.60" width="61.37" height="20.85" fill="#f7f6f4"/>
<rect x="1564.76" y="1008.60" width="61.37" height="20.85" fill="#f7f6f4"/>
<rect x="467.30" y="1029.05" width="61.37" height="20.85" fill="#f7f6f4"/>
<rect x="528.27" y="1029.05" width="61.37" height="20.85" fill="#faecd8"/>
<rect x="589.24" y="1029.05" width="61.37" height="20.85" fill="#f7f6f4"/>
<rect x="650.21" y="1029.05" width="61.37" height="20.85" fill="#f7f5f1"/>
<rect x="711.18" y="1029.05" width="61.37" height="20.85" fill="#f7f6f4"/>
<rect x="772.15" y="1029.05" width="61.37" height="20.85" fill="#ffbe6a"/>
<rect x="833.12" y="1029.05" width="61.37" height="20.85" fill="#fce7ca"/>
<rect x="894.09" y="1029.05" width="61.37" height="20.85" fill="#f9f1e6"/>
<rect x="955.06" y="1029.05" width="61.37" height="20.85" fill="#f7f6f4"/>
<rect x="1016.03" y="1029.05" width="61.37" height="20.85" fill="#f7f6f4"/>
<rect x="1077.00" y="1029.05" width="61.37" height="20.85" fill="#f9f1e6"/>
<rect x="1137.97" y="1029.05" width="61.37" height="20.85" fill="#f7f6f4"/>
<rect x="1198.94" y="1029.05" width="61.37" height="20.85" fill="#f7f6f4"/>
<rect x="1259.91" y="1029.05" width="61.37" height="20.85" fill="#f7f6f4"/>
<rect x="1320.88" y="1029.05" width="61.37" height="20.85" fill="#d36000"/>
<rect x="1381.85" y="1029.05" width="61.37" height="20.85" fill="#f7f6f4"/>
<rect x="1442.82" y="1029.05" width="61.37" height="20.85" fill="#f8f3ed"/>
<rect x="1503.79" y="1029.05" width="61.37" height="20.85" fill="#f7f6f4"/>
<rect x="1564.76" y="1029.05" width="61.37" height="20.85" fill="#f7f6f4"/>
<text x="992.51" y="951.2" font-size="40.3" font-family="'Liberation Sans', Arial, sans-serif" font-weight="normal" text-anchor="start" fill="#262626">40min</text>
<text x="444.16" y="983.33" font-size="20.2" font-family="'Liberation Sans', Arial, sans-serif" font-weight="normal" text-anchor="end" fill="#262626">Twist</text>
<text x="445.37" y="1003.78" font-size="20.2" font-family="'Liberation Sans', Arial, sans-serif" font-weight="normal" text-anchor="end" fill="#262626">Minor_Groove_Width</text>
<text x="444.11" y="1024.23" font-size="20.2" font-family="'Liberation Sans', Arial, sans-serif" font-weight="normal" text-anchor="end" fill="#262626">Propeller_Twist</text>
<text x="445.27" y="1044.67" font-size="20.2" font-family="'Liberation Sans', Arial, sans-serif" font-weight="normal" text-anchor="end" fill="#262626">Roll</text>
<rect x="467.30" y="1131.10" width="61.37" height="20.85" fill="#f7f6f4"/>
<rect x="528.27" y="1131.10" width="61.37" height="20.85" fill="#f8f3eb"/>
<rect x="589.24" y="1131.10" width="61.37" height="20.85" fill="#f7f6f4"/>
<rect x="650.21" y="1131.10" width="61.37" height="20.85" fill="#f7f6f4"/>
<rect x="711.18" y="1131.10" width="61.37" height="20.85" fill="#f7f6f4"/>
<rect x="772.15" y="1131.10" width="61.37" height="20.85" fill="#f7f6f4"/>
<rect x="833.12" y="1131.10" width="61.37" height="20.85" fill="#fed6a1"/>
<rect x="894.09" y="1131.10" width="61.37" height="20.85" fill="#fde5c5"/>
<rect x="955.06" y="1131.10" width="61.37" height="20.85" fill="#f7f6f4"/>
<rect x="1016.03" y="1131.10" width="61.37" height="20.85" fill="#f7f6f4"/>
<rect x="1077.00" y="1131.10" width="61.37" height="20.85" fill="#f9f1e6"/>
<rect x="1137.97" y="1131.10" width="61.37" height="20.85" fill="#f7f5f1"/>
<rect x="1198.94" y="1131.10" width="61.37" height="20.85" fill="#f7f6f4"/>
<rect x="1259.91" y="1131.10" width="61.37" height="20.85" fill="#fce7ca"/>
<rect x="1320.88" y="1131.10" width="61.37" height="20.85" fill="#ffbe6a"/>
<rect x="1381.85" y="1131.10" width="61.37" height="20.85" fill="#f9f1e6"/>
<rect x="1442.82" y="1131.10" width="61.37" height="20.85" fill="#f7f5f2"/>
<rect x="1503.79" y="1131.10" width="61.37" height="20.85" fill="#f9efe1"/>
<rect x="1564.76" y="1131.10" width="61.37" height="20.85" fill="#f7f6f4"/>
<rect x="467.30" y="1151.55" width="61.37" height="20.85" fill="#f7f6f4"/>
<rect x="528.27" y="1151.55" width="61.37" height="20.85" fill="#f9f1e6"/>
<rect x="589.24" y="1151.55" width="61.37" height="20.85" fill="#f7f6f4"/>
<rect x="650.21" y="1151.55" width="61.37" height="20.85" fill="#faecd8"/>
<rect x="711.18" y="1151.55" width="61.37" height="20.85" fill="#f7f6f4"/>
<rect x="772.15" y="1151.55" width="61.37" height="20.85" fill="#f7f6f4"/>
<rect x="833.12" y="1151.55" width="61.37" height="20.85" fill="#ffa535"/>
<rect x="894.09" y="1151.55" width="61.37" height="20.85" fill="#faecd8"/>
<rect x="955.06" y="1151.55" width="61.37" height="20.85" fill="#fde5c5"/>
<rect x="1016.03" y="1151.55" width="61.37" height="20.85" fill="#fde5c5"/>
<rect x="1077.00" y="1151.55" width="61.37" height="20.85" fill="#f7f6f4"/>
<rect x="1137.97" y="1151.55" width="61.37" height="20.85" fill="#fde5c5"/>
<rect x="1198.94" y="1151.55" width="61.37" height="20.85" fill="#f7f6f4"/>
<rect x="1259.91" y="1151.55" width="61.37" height="20.85" fill="#ffca85"/>
<rect x="1320.88" y="1151.55" width="61.37" height="20.85" fill="#f7f6f4"/>
<rect x="1381.85" y="1151.55" width="61.37" height="20.85" fill="#fce9cf"/>
<rect x="1442.82" y="1151.55" width="61.37" height="20.85" fill="#ffba61"/>
<rect x="1503.79" y="1151.55" width="61.37" height="20.85" fill="#f7f6f4"/>
<rect x="1564.76" y="1151.55" width="61.37" height="20.85" fill="#f7f6f4"/>
<rect x="467.30" y="1172.00" width="61.37" height="20.85" fill="#f7f6f4"/>
<rect x="528.27" y="1172.00" width="61.37" height="20.85" fill="#f8f3eb"/>
<rect x="589.24" y="1172.00" width="61.37" height="20.85" fill="#f7f6f4"/>
<rect x="650.21" y="1172.00" width="61.37" height="20.85" fill="#f7f6f4"/>
<rect x="711.18" y="1172.00" width="61.37" height="20.85" fill="#f7f6f4"/>
<rect x="772.15" y="1172.00" width="61.37" height="20.85" fill="#f7f6f4"/>
<rect x="833.12" y="1172.00" width="61.37" height="20.85" fill="#f7f5f2"/>
<rect x="894.09" y="1172.00" width="61.37" height="20.85" fill="#f8f4ee"/>
<rect x="955.06" y="1172.00" width="61.37" height="20.85" fill="#f9f1e6"/>
<rect x="1016.03" y="1172.00" width="61.37" height="20.85" fill="#f7f6f4"/>
<rect x="1077.00" y="1172.00" width="61.37" height="20.85" fill="#f7f6f4"/>
<rect x="1137.97" y="1172.00" width="61.37" height="20.85" fill="#faeedd"/>
<rect x="1198.94" y="1172.00" width="61.37" height="20.85" fill="#f7f6f4"/>
<rect x="1259.91" y="1172.00" width="61.37" height="20.85" fill="#f7f6f4"/>
<rect x="1320.88" y="1172.00" width="61.37" height="20.85" fill="#fed6a1"/>
<rect x="1381.85" y="1172.00" width="61.37" height="20.85" fill="#f7f6f4"/>
<rect x="1442.82" y="1172.00" width="61.37" height="20.85" fill="#f8f4ed"/>
<rect x="1503.79" y="1172.00" width="61.37" height="20.85" fill="#f7f6f4"/>
<rect x="1564.76" y="1172.00" width="61.37" height="20.85" fill="#f7f6f4"/>
<rect x="467.30" y="1192.45" width="61.37" height="20.85" fill="#f7f6f4"/>
<rect x="528.27" y="1192.45" width="61.37" height="20.85" fill="#f8f3ed"/>
<rect x="589.24" y="1192.45" width="61.37" height="20.85" fill="#f7f6f4"/>
<rect x="650.21" y="1192.45" width="61.37" height="20.85" fill="#f7f6f4"/>
<rect x="711.18" y="1192.45" width="61.37" height="20.85" fill="#f7f6f4"/>
<rect x="772.15" y="1192.45" width="61.37" height="20.85" fill="#f7f6f4"/>
<rect x="833.12" y="1192.45" width="61.37" height="20.85" fill="#f8f3eb"/>
<rect x="894.09" y="1192.45" width="61.37" height="20.85" fill="#f8f3eb"/>
<rect x="955.06" y="1192.45" width="61.37" height="20.85" fill="#f7f6f4"/>
<rect x="1016.03" y="1192.45" width="61.37" height="20.85" fill="#f7f6f4"/>
<rect x="1077.00" y="1192.45" width="61.37" height="20.85" fill="#f7f6f4"/>
<rect x="1137.97" y="1192.45" width="61.37" height="20.85" fill="#f7f6f4"/>
<rect x="1198.94" y="1192.45" width="61.37" height="20.85" fill="#f7f6f4"/>
<rect x="1259.91" y="1192.45" width="61.37" height="20.85" fill="#faecd8"/>
<rect x="1320.88" y="1192.45" width="61.37" height="20.85" fill="#fce9cf"/>
<rect x="1381.85" y="1192.45" width="61.37" height="20.85" fill="#f7f6f4"/>
<rect x="1442.82" y="1192.45" width="61.37" height="20.85" fill="#f7f6f4"/>
<rect x="1503.79" y="1192.45" width="61.37" height="20.85" fill="#fce9cf"/>
<rect x="1564.76" y="1192.45" width="61.37" height="20.85" fill="#f7f5f2"/>
<text x="992.11" y="1114.6" font-size="40.3" font-family="'Liberation Sans', Arial, sans-serif" font-weight="normal" text-anchor="start" fill="#262626">80min</text>
<text x="444.16" y="1146.72" font-size="20.2" font-family="'Liberation Sans', Arial, sans-serif" font-weight="normal" text-anchor="end" fill="#262626">Twist</text>
<text x="445.37" y="1167.17" font-size="20.2" font-family="'Liberation Sans', Arial, sans-serif" font-weight="normal" text-anchor="end" fill="#262626">Minor_Groove_Width</text>
<text x="444.11" y="1187.62" font-size="20.2" font-family="'Liberation Sans', Arial, sans-serif" font-weight="normal" text-anchor="end" fill="#262626">Propeller_Twist</text>
<text x="445.27" y="1208.07" font-size="20.2" font-family="'Liberation Sans', Arial, sans-serif" font-weight="normal" text-anchor="end" fill="#262626">Roll</text>
<rect x="467.30" y="1294.50" width="61.37" height="20.85" fill="#f7f6f4"/>
<rect x="528.27" y="1294.50" width="61.37" height="20.85" fill="#f7f6f4"/>
<rect x="589.24" y="1294.50" width="61.37" height="20.85" fill="#f7f6f4"/>
<rect x="650.21" y="1294.50" width="61.37" height="20.85" fill="#f7f5f1"/>
<rect x="711.18" y="1294.50" width="61.37" height="20.85" fill="#f7f6f4"/>
<rect x="772.15" y="1294.50" width="61.37" height="20.85" fill="#f9efe1"/>
<rect x="833.12" y="1294.50" width="61.37" height="20.85" fill="#bb4d00"/>
<rect x="894.09" y="1294.50" width="61.37" height="20.85" fill="#f7f6f4"/>
<rect x="955.06" y="1294.50" width="61.37" height="20.85" fill="#f7f6f4"/>
<rect x="1016.03" y="1294.50" width="61.37" height="20.85" fill="#f7f6f4"/>
<rect x="1077.00" y="1294.50" width="61.37" height="20.85" fill="#f7f6f4"/>
<rect x="1137.97" y="1294.50" width="61.37" height="20.85" fill="#f7f6f4"/>
<rect x="1198.94" y="1294.50" width="61.37" height="20.85" fill="#f7f6f4"/>
<rect x="1259.91" y="1294.50" width="61.37" height="20.85" fill="#f7f6f4"/>
<rect x="1320.88" y="1294.50" width="61.37" height="20.85" fill="#f7f6f4"/>
<rect x="1381.85" y="1294.50" width="61.37" height="20.85" fill="#f7f6f4"/>
<rect x="1442.82" y="1294.50" width="61.37" height="20.85" fill="#f7f6f4"/>
<rect x="1503.79" y="1294.50" width="61.37" height="20.85" fill="#f7f6f4"/>
<rect x="1564.76" y="1294.50" width="61.37" height="20.85" fill="#f7f6f4"/>
<rect x="467.30" y="1314.95" width="61.37" height="20.85" fill="#f7f6f4"/>
<rect x="528.27" y="1314.95" width="61.37" height="20.85" fill="#f7f6f4"/>
<rect x="589.24" y="1314.95" width="61.37" height="20.85" fill="#faecd8"/>
<rect x="650.21" y="1314.95" width="61.37" height="20.85" fill="#f8f3eb"/>
<rect x="711.18" y="1314.95" width="61.37" height="20.85" fill="#f7f6f4"/>
<rect x="772.15" y="1314.95" width="61.37" height="20.85" fill="#fed9a8"/>
<rect x="833.12" y="1314.95" width="61.37" height="20.85" fill="#fee2bc"/>
<rect x="894.09" y="1314.95" width="61.37" height="20.85" fill="#f8f4ef"/>
<rect x="955.06" y="1314.95" width="61.37" height="20.85" fill="#f7f6f4"/>
<rect x="1016.03" y="1314.95" width="61.37" height="20.85" fill="#f7f6f4"/>
<rect x="1077.00" y="1314.95" width="61.37" height="20.85" fill="#fed6a1"/>
<rect x="1137.97" y="1314.95" width="61.37" height="20.85" fill="#fee2bc"/>
<rect x="1198.94" y="1314.95" width="61.37" height="20.85" fill="#f7f6f4"/>
<rect x="1259.91" y="1314.95" width="61.37" height="20.85" fill="#f7f6f4"/>
<rect x="1320.88" y="1314.95" width="61.37" height="20.85" fill="#f8f3ed"/>
<rect x="1381.85" y="1314.95" width="61.37" height="20.85" fill="#ffba61"/>
<rect x="1442.82" y="1314.95" width="61.37" height="20.85" fill="#f7f6f4"/>
<rect x="1503.79" y="1314.95" width="61.37" height="20.85" fill="#f7f6f4"/>
<rect x="1564.76" y="1314.95" width="61.37" height="20.85" fill="#f7f6f4"/>
<rect x="467.30" y="1335.40" width="61.37" height="20.85" fill="#f7f6f4"/>
<rect x="528.27" y="1335.40" width="61.37" height="20.85" fill="#f7f6f4"/>
<rect x="589.24" y="1335.40" width="61.37" height="20.85" fill="#f7f6f4"/>
<rect x="650.21" y="1335.40" width="61.37" height="20.85" fill="#f7f6f4"/>
<rect x="711.18" y="1335.40" width="61.37" height="20.85" fill="#f7f6f4"/>
<rect x="772.15" y="1335.40" width="61.37" height="20.85" fill="#fee2bc"/>
<rect x="833.12" y="1335.40" width="61.37" height="20.85" fill="#f7f6f4"/>
<rect x="894.09" y="1335.40" width="61.37" height="20.85" fill="#f8f2e9"/>
<rect x="955.06" y="1335.40" width="61.37" height="20.85" fill="#f7f6f4"/>
<rect x="1016.03" y="1335.40" width="61.37" height="20.85" fill="#f7f6f4"/>
<rect x="1077.00" y="1335.40" width="61.37" height="20.85" fill="#f7f6f4"/>
<rect x="1137.97" y="1335.40" width="61.37" height="20.85" fill="#f7f6f4"/>
<rect x="1198.94" y="1335.40" width="61.37" height="20.85" fill="#f7f6f4"/>
<rect x="1259.91" y="1335.40" width="61.37" height="20.85" fill="#f7f6f4"/>
<rect x="1320.88" y="1335.40" width="61.37" height="20.85" fill="#f7f6f4"/>
<rect x="1381.85" y="1335.40" width="61.37" height="20.85" fill="#f7f6f4"/>
<rect x="1442.82" y="1335.40" width="61.37" height="20.85" fill="#f7f6f4"/>
<rect x="1503.79" y="1335.40" width="61.37" height="20.85" fill="#f7f6f4"/>
<rect x="1564.76" y="1335.40" width="61.37" height="20.85" fill="#f7f6f4"/>
<rect x="467.30" y="1355.85" width="61.37" height="20.85" fill="#f7f6f4"/>
<rect x="528.27" y="1355.85" width="61.37" height="20.85" fill="#f7f6f4"/>
<rect x="589.24" y="1355.85" width="61.37" height="20.85" fill="#faecd8"/>
<rect x="650.21" y="1355.85" width="61.37" height="20.85" fill="#f7f6f4"/>
<rect x="711.18" y="1355.85" width="61.37" height="20.85" fill="#f7f6f4"/>
<rect x="772.15" y="1355.85" width="61.37" height="20.85" fill="#f7f5f2"/>
<rect x="833.12" y="1355.85" width="61.37" height="20.85" fill="#ff8c00"/>
<rect x="894.09" y="1355.85" width="61.37" height="20.85" fill="#f7f6f4"/>
<rect x="955.06" y="1355.85" width="61.37" height="20.85" fill="#f7f6f4"/>
<rect x="1016.03" y="1355.85" width="61.37" height="20.85" fill="#f7f6f4"/>
<rect x="1077.00" y="1355.85" width="61.37" height="20.85" fill="#f7f6f4"/>
<rect x="1137.97" y="1355.85" width="61.37" height="20.85" fill="#f7f6f4"/>
<rect x="1198.94" y="1355.85" width="61.37" height="20.85" fill="#f7f6f4"/>
<rect x="1259.91" y="1355.85" width="61.37" height="20.85" fill="#f7f6f4"/>
<rect x="1320.88" y="1355.85" width="61.37" height="20.85" fill="#f9efe1"/>
<rect x="1381.85" y="1355.85" width="61.37" height="20.85" fill="#f7f6f4"/>
<rect x="1442.82" y="1355.85" width="61.37" height="20.85" fill="#f7f6f4"/>
<rect x="1503.79" y="1355.85" width="61.37" height="20.85" fill="#f7f6f4"/>
<rect x="1564.76" y="1355.85" width="61.37" height="20.85" fill="#f8f2e9"/>
<text x="980.22" y="1278" font-size="40.3" font-family="'Liberation Sans', Arial, sans-serif" font-weight="normal" text-anchor="start" fill="#262626">160min</text>
<text x="444.16" y="1310.12" font-size="20.2" font-family="'Liberation Sans', Arial, sans-serif" font-weight="normal" text-anchor="end" fill="#262626">Twist</text>
<text x="445.37" y="1330.58" font-size="20.2" font-family="'Liberation Sans', Arial, sans-serif" font-weight="normal" text-anchor="end" fill="#262626">Minor_Groove_Width</text>
<text x="444.11" y="1351.03" font-size="20.2" font-family="'Liberation Sans', Arial, sans-serif" font-weight="normal" text-anchor="end" fill="#262626">Propeller_Twist</text>
<text x="445.27" y="1371.47" font-size="20.2" font-family="'Liberation Sans', Arial, sans-serif" font-weight="normal" text-anchor="end" fill="#262626">Roll</text>
<rect x="467.30" y="1457.90" width="61.37" height="20.85" fill="#faeedd"/>
<rect x="528.27" y="1457.90" width="61.37" height="20.85" fill="#f7f5f2"/>
<rect x="589.24" y="1457.90" width="61.37" height="20.85" fill="#f7f6f4"/>
<rect x="650.21" y="1457.90" width="61.37" height="20.85" fill="#f7f6f4"/>
<rect x="711.18" y="1457.90" width="61.37" height="20.85" fill="#f7f6f4"/>
<rect x="772.15" y="1457.90" width="61.37" height="20.85" fill="#f8f2e9"/>
<rect x="833.12" y="1457.90" width="61.37" height="20.85" fill="#f7f6f4"/>
<rect x="894.09" y="1457.90" width="61.37" height="20.85" fill="#fee2bc"/>
<rect x="955.06" y="1457.90" width="61.37" height="20.85" fill="#f7f6f4"/>
<rect x="1016.03" y="1457.90" width="61.37" height="20.85" fill="#f7f6f4"/>
<rect x="1077.00" y="1457.90" width="61.37" height="20.85" fill="#fde5c5"/>
<rect x="1137.97" y="1457.90" width="61.37" height="20.85" fill="#f7f6f4"/>
<rect x="1198.94" y="1457.90" width="61.37" height="20.85" fill="#f7f6f4"/>
<rect x="1259.91" y="1457.90" width="61.37" height="20.85" fill="#f8f2e9"/>
<rect x="1320.88" y="1457.90" width="61.37" height="20.85" fill="#fedfb5"/>
<rect x="1381.85" y="1457.90" width="61.37" height="20.85" fill="#faecd8"/>
<rect x="1442.82" y="1457.90" width="61.37" height="20.85" fill="#f8f4ee"/>
<rect x="1503.79" y="1457.90" width="61.37" height="20.85" fill="#f7f6f4"/>
<rect x="1564.76" y="1457.90" width="61.37" height="20.85" fill="#f7f6f4"/>
<rect x="467.30" y="1478.35" width="61.37" height="20.85" fill="#f7f6f4"/>
<rect x="528.27" y="1478.35" width="61.37" height="20.85" fill="#f7f5f2"/>
<rect x="589.24" y="1478.35" width="61.37" height="20.85" fill="#f7f6f4"/>
<rect x="650.21" y="1478.35" width="61.37" height="20.85" fill="#f7f6f4"/>
<rect x="711.18" y="1478.35" width="61.37" height="20.85" fill="#fce9cf"/>
<rect x="772.15" y="1478.35" width="61.37" height="20.85" fill="#f7f6f4"/>
<rect x="833.12" y="1478.35" width="61.37" height="20.85" fill="#fed6a1"/>
<rect x="894.09" y="1478.35" width="61.37" height="20.85" fill="#fce7ca"/>
<rect x="955.06" y="1478.35" width="61.37" height="20.85" fill="#fed093"/>
<rect x="1016.03" y="1478.35" width="61.37" height="20.85" fill="#faecd8"/>
<rect x="1077.00" y="1478.35" width="61.37" height="20.85" fill="#f8f4ed"/>
<rect x="1137.97" y="1478.35" width="61.37" height="20.85" fill="#faecd8"/>
<rect x="1198.94" y="1478.35" width="61.37" height="20.85" fill="#fce9cf"/>
<rect x="1259.91" y="1478.35" width="61.37" height="20.85" fill="#f8f2e9"/>
<rect x="1320.88" y="1478.35" width="61.37" height="20.85" fill="#f7f6f4"/>
<rect x="1381.85" y="1478.35" width="61.37" height="20.85" fill="#f7f6f4"/>
<rect x="1442.82" y="1478.35" width="61.37" height="20.85" fill="#fee2bc"/>
<rect x="1503.79" y="1478.35" width="61.37" height="20.85" fill="#f7f6f4"/>
<rect x="1564.76" y="1478.35" width="61.37" height="20.85" fill="#f9f1e6"/>
<rect x="467.30" y="1498.80" width="61.37" height="20.85" fill="#f7f6f4"/>
<rect x="528.27" y="1498.80" width="61.37" height="20.85" fill="#f7f6f4"/>
<rect x="589.24" y="1498.80" width="61.37" height="20.85" fill="#f7f6f4"/>
<rect x="650.21" y="1498.80" width="61.37" height="20.85" fill="#f7f6f4"/>
<rect x="711.18" y="1498.80" width="61.37" height="20.85" fill="#f9efe1"/>
<rect x="772.15" y="1498.80" width="61.37" height="20.85" fill="#f9efe1"/>
<rect x="833.12" y="1498.80" width="61.37" height="20.85" fill="#f7f6f4"/>
<rect x="894.09" y="1498.80" width="61.37" height="20.85" fill="#f7f6f4"/>
<rect x="955.06" y="1498.80" width="61.37" height="20.85" fill="#f7f6f4"/>
<rect x="1016.03" y="1498.80" width="61.37" height="20.85" fill="#f7f6f4"/>
<rect x="1077.00" y="1498.80" width="61.37" height="20.85" fill="#f7f6f4"/>
<rect x="1137.97" y="1498.80" width="61.37" height="20.85" fill="#fce9cf"/>
<rect x="1198.94" y="1498.80" width="61.37" height="20.85" fill="#f7f6f4"/>
<rect x="1259.91" y="1498.80" width="61.37" height="20.85" fill="#f7f6f4"/>
<rect x="1320.88" y="1498.80" width="61.37" height="20.85" fill="#faecd8"/>
<rect x="1381.85" y="1498.80" width="61.37" height="20.85" fill="#f7f6f4"/>
<rect x="1442.82" y="1498.80" width="61.37" height="20.85" fill="#f9efe1"/>
<rect x="1503.79" y="1498.80" width="61.37" height="20.85" fill="#f7f6f4"/>
<rect x="1564.76" y="1498.80" width="61.37" height="20.85" fill="#f7f6f4"/>
<rect x="467.30" y="1519.25" width="61.37" height="20.85" fill="#f7f6f4"/>
<rect x="528.27" y="1519.25" width="61.37" height="20.85" fill="#f7f6f4"/>
<rect x="589.24" y="1519.25" width="61.37" height="20.85" fill="#f7f6f4"/>
<rect x="650.21" y="1519.25" width="61.37" height="20.85" fill="#f7f6f4"/>
<rect x="711.18" y="1519.25" width="61.37" height="20.85" fill="#f7f6f4"/>
<rect x="772.15" y="1519.25" width="61.37" height="20.85" fill="#f7f6f4"/>
<rect x="833.12" y="1519.25" width="61.37" height="20.85" fill="#f7f6f4"/>
<rect x="894.09" y="1519.25" width="61.37" height="20.85" fill="#f7f6f4"/>
<rect x="955.06" y="1519.25" width="61.37" height="20.85" fill="#f7f6f4"/>
<rect x="1016.03" y="1519.25" width="61.37" height="20.85" fill="#f7f5f2"/>
<rect x="1077.00" y="1519.25" width="61.37" height="20.85" fill="#f7f6f4"/>
<rect x="1137.97" y="1519.25" width="61.37" height="20.85" fill="#f7f6f4"/>
<rect x="1198.94" y="1519.25" width="61.37" height="20.85" fill="#f7f6f4"/>
<rect x="1259.91" y="1519.25" width="61.37" height="20.85" fill="#f7f6f4"/>
<rect x="1320.88" y="1519.25" width="61.37" height="20.85" fill="#f7f6f4"/>
<rect x="1381.85" y="1519.25" width="61.37" height="20.85" fill="#f7f6f4"/>
<rect x="1442.82" y="1519.25" width="61.37" height="20.85" fill="#f7f6f4"/>
<rect x="1503.79" y="1519.25" width="61.37" height="20.85" fill="#f7f6f4"/>
<rect x="1564.76" y="1519.25" width="61.37" height="20.85" fill="#f8f3eb"/>
<text x="981.03" y="1441.4" font-size="40.3" font-family="'Liberation Sans', Arial, sans-serif" font-weight="normal" text-anchor="start" fill="#262626">320min</text>
<text x="444.16" y="1473.53" font-size="20.2" font-family="'Liberation Sans', Arial, sans-serif" font-weight="normal" text-anchor="end" fill="#262626">Twist</text>
<text x="445.37" y="1493.98" font-size="20.2" font-family="'Liberation Sans', Arial, sans-serif" font-weight="normal" text-anchor="end" fill="#262626">Minor_Groove_Width</text>
<text x="444.11" y="1514.43" font-size="20.2" font-family="'Liberation Sans', Arial, sans-serif" font-weight="normal" text-anchor="end" fill="#262626">Propeller_Twist</text>
<text x="445.27" y="1534.88" font-size="20.2" font-family="'Liberation Sans', Arial, sans-serif" font-weight="normal" text-anchor="end" fill="#262626">Roll</text>
<text x="487.85" y="1587.6" font-size="35.5" font-family="'Liberation Sans', Arial, sans-serif" font-weight="normal" text-anchor="start" fill="#262626">0</text>
<text x="548.28" y="1587.6" font-size="35.5" font-family="'Liberation Sans', Arial, sans-serif" font-weight="normal" text-anchor="start" fill="#262626">1</text>
<text x="609.78" y="1587.6" font-size="35.5" font-family="'Liberation Sans', Arial, sans-serif" font-weight="normal" text-anchor="start" fill="#262626">2</text>
<text x="670.93" y="1587.6" font-size="35.5" font-family="'Liberation Sans', Arial, sans-serif" font-weight="normal" text-anchor="start" fill="#262626">3</text>
<text x="731.9" y="1587.6" font-size="35.5" font-family="'Liberation Sans', Arial, sans-serif" font-weight="normal" text-anchor="start" fill="#262626">4</text>
<text x="792.7" y="1587.6" font-size="35.5" font-family="'Liberation Sans', Arial, sans-serif" font-weight="normal" text-anchor="start" fill="#262626">5</text>
<text x="853.66" y="1587.6" font-size="35.5" font-family="'Liberation Sans', Arial, sans-serif" font-weight="normal" text-anchor="start" fill="#262626">6</text>
<text x="914.63" y="1587.6" font-size="35.5" font-family="'Liberation Sans', Arial, sans-serif" font-weight="normal" text-anchor="start" fill="#262626">7</text>
<text x="975.78" y="1587.6" font-size="35.5" font-family="'Liberation Sans', Arial, sans-serif" font-weight="normal" text-anchor="start" fill="#262626">8</text>
<text x="1036.57" y="1587.6" font-size="35.5" font-family="'Liberation Sans', Arial, sans-serif" font-weight="normal" text-anchor="start" fill="#262626">9</text>
<text x="1086.89" y="1587.6" font-size="35.5" font-family="'Liberation Sans', Arial, sans-serif" font-weight="normal" text-anchor="start" fill="#262626">10</text>
<text x="1149.46" y="1587.6" font-size="35.5" font-family="'Liberation Sans', Arial, sans-serif" font-weight="normal" text-anchor="start" fill="#262626">11</text>
<text x="1209.01" y="1587.6" font-size="35.5" font-family="'Liberation Sans', Arial, sans-serif" font-weight="normal" text-anchor="start" fill="#262626">12</text>
<text x="1269.98" y="1587.6" font-size="35.5" font-family="'Liberation Sans', Arial, sans-serif" font-weight="normal" text-anchor="start" fill="#262626">13</text>
<text x="1330.6" y="1587.6" font-size="35.5" font-family="'Liberation Sans', Arial, sans-serif" font-weight="normal" text-anchor="start" fill="#262626">14</text>
<text x="1391.74" y="1587.6" font-size="35.5" font-family="'Liberation Sans', Arial, sans-serif" font-weight="normal" text-anchor="start" fill="#262626">15</text>
<text x="1452.89" y="1587.6" font-size="35.5" font-family="'Liberation Sans', Arial, sans-serif" font-weight="normal" text-anchor="start" fill="#262626">16</text>
<text x="1513.86" y="1587.6" font-size="35.5" font-family="'Liberation Sans', Arial, sans-serif" font-weight="normal" text-anchor="start" fill="#262626">17</text>
<text x="1574.83" y="1587.6" font-size="35.5" font-family="'Liberation Sans', Arial, sans-serif" font-weight="normal" text-anchor="start" fill="#262626">18</text>
<rect x="467.50" y="2021.30" width="83.40" height="52.15" fill="#f7f6f4"/>
<rect x="550.50" y="2021.30" width="83.40" height="52.15" fill="#f7f6f4"/>
<rect x="633.50" y="2021.30" width="83.40" height="52.15" fill="#f6f5f4"/>
<rect x="716.50" y="2021.30" width="83.40" height="52.15" fill="#f1f1f3"/>
<rect x="799.50" y="2021.30" width="83.40" height="52.15" fill="#bab4da"/>
<rect x="882.50" y="2021.30" width="83.40" height="52.15" fill="#f7f6f4"/>
<rect x="965.50" y="2021.30" width="83.40" height="52.15" fill="#f6f5f4"/>
<rect x="1048.50" y="2021.30" width="83.40" height="52.15" fill="#f7f6f4"/>
<rect x="1131.50" y="2021.30" width="83.40" height="52.15" fill="#f6f5f4"/>
<rect x="1214.50" y="2021.30" width="83.40" height="52.15" fill="#f3f3f3"/>
<rect x="1297.50" y="2021.30" width="83.40" height="52.15" fill="#ededf2"/>
<rect x="1380.50" y="2021.30" width="83.40" height="52.15" fill="#dadcee"/>
<rect x="1463.50" y="2021.30" width="83.40" height="52.15" fill="#f7f6f4"/>
<rect x="1546.50" y="2021.30" width="83.40" height="52.15" fill="#f7f6f4"/>
<rect x="467.50" y="2073.05" width="83.40" height="52.15" fill="#e4e5f0"/>
<rect x="550.50" y="2073.05" width="83.40" height="52.15" fill="#e4e5f0"/>
<rect x="633.50" y="2073.05" width="83.40" height="52.15" fill="#dcdeee"/>
<rect x="716.50" y="2073.05" width="83.40" height="52.15" fill="#f0f0f2"/>
<rect x="799.50" y="2073.05" width="83.40" height="52.15" fill="#e4e5f0"/>
<rect x="882.50" y="2073.05" width="83.40" height="52.15" fill="#f7f6f4"/>
<rect x="965.50" y="2073.05" width="83.40" height="52.15" fill="#f7f6f4"/>
<rect x="1048.50" y="2073.05" width="83.40" height="52.15" fill="#f5f4f4"/>
<rect x="1131.50" y="2073.05" width="83.40" height="52.15" fill="#f0f0f2"/>
<rect x="1214.50" y="2073.05" width="83.40" height="52.15" fill="#f3f3f3"/>
<rect x="1297.50" y="2073.05" width="83.40" height="52.15" fill="#dadcee"/>
<rect x="1380.50" y="2073.05" width="83.40" height="52.15" fill="#f7f6f4"/>
<rect x="1463.50" y="2073.05" width="83.40" height="52.15" fill="#dcdeee"/>
<rect x="1546.50" y="2073.05" width="83.40" height="52.15" fill="#e4e5f0"/>
<rect x="467.50" y="2124.80" width="83.40" height="52.15" fill="#f7f6f4"/>
<rect x="550.50" y="2124.80" width="83.40" height="52.15" fill="#f7f6f4"/>
<rect x="633.50" y="2124.80" width="83.40" height="52.15" fill="#f7f6f4"/>
<rect x="716.50" y="2124.80" width="83.40" height="52.15" fill="#f7f6f4"/>
<rect x="799.50" y="2124.80" width="83.40" height="52.15" fill="#dcdeee"/>
<rect x="882.50" y="2124.80" width="83.40" height="52.15" fill="#f7f6f4"/>
<rect x="965.50" y="2124.80" width="83.40" height="52.15" fill="#f7f6f4"/>
<rect x="1048.50" y="2124.80" width="83.40" height="52.15" fill="#f7f6f4"/>
<rect x="1131.50" y="2124.80" width="83.40" height="52.15" fill="#f3f3f3"/>
<rect x="1214.50" y="2124.80" width="83.40" height="52.15" fill="#f0f0f2"/>
<rect x="1297.50" y="2124.80" width="83.40" height="52.15" fill="#9f93c6"/>
<rect x="1380.50" y="2124.80" width="83.40" height="52.15" fill="#f7f6f4"/>
<rect x="1463.50" y="2124.80" width="83.40" height="52.15" fill="#f5f4f4"/>
<rect x="1546.50" y="2124.80" width="83.40" height="52.15" fill="#f7f6f4"/>
<rect x="467.50" y="2176.55" width="83.40" height="52.15" fill="#f2f2f3"/>
<rect x="550.50" y="2176.55" width="83.40" height="52.15" fill="#ededf2"/>
<rect x="633.50" y="2176.55" width="83.40" height="52.15" fill="#f7f6f4"/>
<rect x="716.50" y="2176.55" width="83.40" height="52.15" fill="#f7f6f4"/>
<rect x="799.50" y="2176.55" width="83.40" height="52.15" fill="#f7f6f4"/>
<rect x="882.50" y="2176.55" width="83.40" height="52.15" fill="#f7f6f4"/>
<rect x="965.50" y="2176.55" width="83.40" height="52.15" fill="#f7f6f4"/>
<rect x="1048.50" y="2176.55" width="83.40" height="52.15" fill="#f3f3f3"/>
<rect x="1131.50" y="2176.55" width="83.40" height="52.15" fill="#f3f3f3"/>
<rect x="1214.50" y="2176.55" width="83.40" height="52.15" fill="#f7f6f4"/>
<rect x="1297.50" y="2176.55" width="83.40" height="52.15" fill="#e8e9f1"/>
<rect x="1380.50" y="2176.55" width="83.40" height="52.15" fill="#f7f6f4"/>
<rect x="1463.50" y="2176.55" width="83.40" height="52.15" fill="#f4f3f3"/>
<rect x="1546.50" y="2176.55" width="83.40" height="52.15" fill="#f7f6f4"/>
<text x="974.57" y="2006.3" font-size="34.8" font-family="'Liberation Sans', Arial, sans-serif" font-weight="normal" text-anchor="start" fill="#262626">untreated</text>
<text x="445.56" y="2067.7" font-size="46.5" font-family="'Liberation Sans', Arial, sans-serif" font-weight="normal" text-anchor="end" fill="#262626">Twist</text>
<text x="452.55" y="2114.8" font-size="46.5" font-family="'Liberation Sans', Arial, sans-serif" font-weight="normal" text-anchor="end" fill="#262626">Minor_Groove_Width</text>
<text x="447.86" y="2166" font-size="46.5" font-family="'Liberation Sans', Arial, sans-serif" font-weight="normal" text-anchor="end" fill="#262626">Propeller_Twist</text>
<text x="449.91" y="2218.9" font-size="46.5" font-family="'Liberation Sans', Arial, sans-serif" font-weight="normal" text-anchor="end" fill="#262626">Roll</text>
<rect x="467.50" y="2374.90" width="83.40" height="52.15" fill="#f7f6f4"/>
<rect x="550.50" y="2374.90" width="83.40" height="52.15" fill="#f7f6f4"/>
<rect x="633.50" y="2374.90" width="83.40" height="52.15" fill="#f7f6f4"/>
<rect x="716.50" y="2374.90" width="83.40" height="52.15" fill="#f6f5f4"/>
<rect x="799.50" y="2374.90" width="83.40" height="52.15" fill="#beb8dc"/>
<rect x="882.50" y="2374.90" width="83.40" height="52.15" fill="#f7f6f4"/>
<rect x="965.50" y="2374.90" width="83.40" height="52.15" fill="#f7f6f4"/>
<rect x="1048.50" y="2374.90" width="83.40" height="52.15" fill="#f6f5f4"/>
<rect x="1131.50" y="2374.90" width="83.40" height="52.15" fill="#f7f6f4"/>
<rect x="1214.50" y="2374.90" width="83.40" height="52.15" fill="#f7f6f4"/>
<rect x="1297.50" y="2374.90" width="83.40" height="52.15" fill="#f7f6f4"/>
<rect x="1380.50" y="2374.90" width="83.40" height="52.15" fill="#f6f5f4"/>
<rect x="1463.50" y="2374.90" width="83.40" height="52.15" fill="#f7f6f4"/>
<rect x="1546.50" y="2374.90" width="83.40" height="52.15" fill="#e6e7f0"/>
<rect x="467.50" y="2426.65" width="83.40" height="52.15" fill="#e6e7f0"/>
<rect x="550.50" y="2426.65" width="83.40" height="52.15" fill="#dcdeee"/>
<rect x="633.50" y="2426.65" width="83.40" height="52.15" fill="#dcdeee"/>
<rect x="716.50" y="2426.65" width="83.40" height="52.15" fill="#f6f5f4"/>
<rect x="799.50" y="2426.65" width="83.40" height="52.15" fill="#e4e5f0"/>
<rect x="882.50" y="2426.65" width="83.40" height="52.15" fill="#f7f6f4"/>
<rect x="965.50" y="2426.65" width="83.40" height="52.15" fill="#f6f5f4"/>
<rect x="1048.50" y="2426.65" width="83.40" height="52.15" fill="#f7f6f4"/>
<rect x="1131.50" y="2426.65" width="83.40" height="52.15" fill="#e1e2f0"/>
<rect x="1214.50" y="2426.65" width="83.40" height="52.15" fill="#f7f6f4"/>
<rect x="1297.50" y="2426.65" width="83.40" height="52.15" fill="#d0d0e8"/>
<rect x="1380.50" y="2426.65" width="83.40" height="52.15" fill="#f6f5f4"/>
<rect x="1463.50" y="2426.65" width="83.40" height="52.15" fill="#e4e5f0"/>
<rect x="1546.50" y="2426.65" width="83.40" height="52.15" fill="#d0d0e8"/>
<rect x="467.50" y="2478.40" width="83.40" height="52.15" fill="#f7f6f4"/>
<rect x="550.50" y="2478.40" width="83.40" height="52.15" fill="#f7f6f4"/>
<rect x="633.50" y="2478.40" width="83.40" height="52.15" fill="#f7f6f4"/>
<rect x="716.50" y="2478.40" width="83.40" height="52.15" fill="#f6f5f4"/>
<rect x="799.50" y="2478.40" width="83.40" height="52.15" fill="#f6f5f4"/>
<rect x="882.50" y="2478.40" width="83.40" height="52.15" fill="#f7f6f4"/>
<rect x="965.50" y="2478.40" width="83.40" height="52.15" fill="#f7f6f4"/>
<rect x="1048.50" y="2478.40" width="83.40" height="52.15" fill="#f7f6f4"/>
<rect x="1131.50" y="2478.40" width="83.40" height="52.15" fill="#bab4da"/>
<rect x="1214.50" y="2478.40" width="83.40" height="52.15" fill="#f7f6f4"/>
<rect x="1297.50" y="2478.40" width="83.40" height="52.15" fill="#d0d0e8"/>
<rect x="1380.50" y="2478.40" width="83.40" height="52.15" fill="#f7f6f4"/>
<rect x="1463.50" y="2478.40" width="83.40" height="52.15" fill="#f4f3f3"/>
<rect x="1546.50" y="2478.40" width="83.40" height="52.15" fill="#f7f6f4"/>
<rect x="467.50" y="2530.15" width="83.40" height="52.15" fill="#f7f6f4"/>
<rect x="550.50" y="2530.15" width="83.40" height="52.15" fill="#f2f2f3"/>
<rect x="633.50" y="2530.15" width="83.40" height="52.15" fill="#f7f6f4"/>
<rect x="716.50" y="2530.15" width="83.40" height="52.15" fill="#f7f6f4"/>
<rect x="799.50" y="2530.15" width="83.40" height="52.15" fill="#f7f6f4"/>
<rect x="882.50" y="2530.15" width="83.40" height="52.15" fill="#f7f6f4"/>
<rect x="965.50" y="2530.15" width="83.40" height="52.15" fill="#f6f5f4"/>
<rect x="1048.50" y="2530.15" width="83.40" height="52.15" fill="#f7f6f4"/>
<rect x="1131.50" y="2530.15" width="83.40" height="52.15" fill="#cac8e4"/>
<rect x="1214.50" y="2530.15" width="83.40" height="52.15" fill="#f7f6f4"/>
<rect x="1297.50" y="2530.15" width="83.40" height="52.15" fill="#f7f6f4"/>
<rect x="1380.50" y="2530.15" width="83.40" height="52.15" fill="#f7f6f4"/>
<rect x="1463.50" y="2530.15" width="83.40" height="52.15" fill="#f1f1f3"/>
<rect x="1546.50" y="2530.15" width="83.40" height="52.15" fill="#f7f6f4"/>
<text x="1015.81" y="2359.9" font-size="34.8" font-family="'Liberation Sans', Arial, sans-serif" font-weight="normal" text-anchor="start" fill="#262626">Dex</text>
<text x="442.06" y="2417.7" font-size="46.5" font-family="'Liberation Sans', Arial, sans-serif" font-weight="normal" text-anchor="end" fill="#262626">Twist</text>
<text x="448.95" y="2464.8" font-size="46.5" font-family="'Liberation Sans', Arial, sans-serif" font-weight="normal" text-anchor="end" fill="#262626">Minor_Groove_Width</text>
<text x="444.26" y="2516.5" font-size="46.5" font-family="'Liberation Sans', Arial, sans-serif" font-weight="normal" text-anchor="end" fill="#262626">Propeller_Twist</text>
<text x="446.41" y="2569.5" font-size="46.5" font-family="'Liberation Sans', Arial, sans-serif" font-weight="normal" text-anchor="end" fill="#262626">Roll</text>
<rect x="467.50" y="2726.90" width="83.40" height="52.15" fill="#f0f0f2"/>
<rect x="550.50" y="2726.90" width="83.40" height="52.15" fill="#f7f6f4"/>
<rect x="633.50" y="2726.90" width="83.40" height="52.15" fill="#f7f6f4"/>
<rect x="716.50" y="2726.90" width="83.40" height="52.15" fill="#f0f0f2"/>
<rect x="799.50" y="2726.90" width="83.40" height="52.15" fill="#b7b0d8"/>
<rect x="882.50" y="2726.90" width="83.40" height="52.15" fill="#f7f6f4"/>
<rect x="965.50" y="2726.90" width="83.40" height="52.15" fill="#f7f6f4"/>
<rect x="1048.50" y="2726.90" width="83.40" height="52.15" fill="#f6f5f4"/>
<rect x="1131.50" y="2726.90" width="83.40" height="52.15" fill="#f7f6f4"/>
<rect x="1214.50" y="2726.90" width="83.40" height="52.15" fill="#f7f6f4"/>
<rect x="1297.50" y="2726.90" width="83.40" height="52.15" fill="#f7f6f4"/>
<rect x="1380.50" y="2726.90" width="83.40" height="52.15" fill="#f7f6f4"/>
<rect x="1463.50" y="2726.90" width="83.40" height="52.15" fill="#f7f6f4"/>
<rect x="1546.50" y="2726.90" width="83.40" height="52.15" fill="#f7f6f4"/>
<rect x="467.50" y="2778.65" width="83.40" height="52.15" fill="#dcdeee"/>
<rect x="550.50" y="2778.65" width="83.40" height="52.15" fill="#dadcee"/>
<rect x="633.50" y="2778.65" width="83.40" height="52.15" fill="#f1f1f3"/>
<rect x="716.50" y="2778.65" width="83.40" height="52.15" fill="#f0f0f2"/>
<rect x="799.50" y="2778.65" width="83.40" height="52.15" fill="#f1f1f3"/>
<rect x="882.50" y="2778.65" width="83.40" height="52.15" fill="#f7f6f4"/>
<rect x="965.50" y="2778.65" width="83.40" height="52.15" fill="#f6f5f4"/>
<rect x="1048.50" y="2778.65" width="83.40" height="52.15" fill="#f7f6f4"/>
<rect x="1131.50" y="2778.65" width="83.40" height="52.15" fill="#e8e9f1"/>
<rect x="1214.50" y="2778.65" width="83.40" height="52.15" fill="#f7f6f4"/>
<rect x="1297.50" y="2778.65" width="83.40" height="52.15" fill="#c7c4e2"/>
<rect x="1380.50" y="2778.65" width="83.40" height="52.15" fill="#f7f6f4"/>
<rect x="1463.50" y="2778.65" width="83.40" height="52.15" fill="#f1f1f3"/>
<rect x="1546.50" y="2778.65" width="83.40" height="52.15" fill="#dadcee"/>
<rect x="467.50" y="2830.40" width="83.40" height="52.15" fill="#f7f6f4"/>
<rect x="550.50" y="2830.40" width="83.40" height="52.15" fill="#f7f6f4"/>
<rect x="633.50" y="2830.40" width="83.40" height="52.15" fill="#f7f6f4"/>
<rect x="716.50" y="2830.40" width="83.40" height="52.15" fill="#f6f5f4"/>
<rect x="799.50" y="2830.40" width="83.40" height="52.15" fill="#f7f6f4"/>
<rect x="882.50" y="2830.40" width="83.40" height="52.15" fill="#f7f6f4"/>
<rect x="965.50" y="2830.40" width="83.40" height="52.15" fill="#f7f6f4"/>
<rect x="1048.50" y="2830.40" width="83.40" height="52.15" fill="#f7f6f4"/>
<rect x="1131.50" y="2830.40" width="83.40" height="52.15" fill="#bab4da"/>
<rect x="1214.50" y="2830.40" width="83.40" height="52.15" fill="#f7f6f4"/>
<rect x="1297.50" y="2830.40" width="83.40" height="52.15" fill="#dadcee"/>
<rect x="1380.50" y="2830.40" width="83.40" height="52.15" fill="#f7f6f4"/>
<rect x="1463.50" y="2830.40" width="83.40" height="52.15" fill="#e8e9f1"/>
<rect x="1546.50" y="2830.40" width="83.40" height="52.15" fill="#f7f6f4"/>
<rect x="467.50" y="2882.15" width="83.40" height="52.15" fill="#f7f6f4"/>
<rect x="550.50" y="2882.15" width="83.40" height="52.15" fill="#f2f2f3"/>
<rect x="633.50" y="2882.15" width="83.40" height="52.15" fill="#f7f6f4"/>
<rect x="716.50" y="2882.15" width="83.40" height="52.15" fill="#f7f6f4"/>
<rect x="799.50" y="2882.15" width="83.40" height="52.15" fill="#f7f6f4"/>
<rect x="882.50" y="2882.15" width="83.40" height="52.15" fill="#f7f6f4"/>
<rect x="965.50" y="2882.15" width="83.40" height="52.15" fill="#f6f5f4"/>
<rect x="1048.50" y="2882.15" width="83.40" height="52.15" fill="#f7f6f4"/>
<rect x="1131.50" y="2882.15" width="83.40" height="52.15" fill="#cdcce6"/>
<rect x="1214.50" y="2882.15" width="83.40" height="52.15" fill="#f7f6f4"/>
<rect x="1297.50" y="2882.15" width="83.40" height="52.15" fill="#f7f6f4"/>
<rect x="1380.50" y="2882.15" width="83.40" height="52.15" fill="#f7f6f4"/>
<rect x="1463.50" y="2882.15" width="83.40" height="52.15" fill="#e6e7f0"/>
<rect x="1546.50" y="2882.15" width="83.40" height="52.15" fill="#f7f6f4"/>
<text x="1026.08" y="2711.9" font-size="34.8" font-family="'Liberation Sans', Arial, sans-serif" font-weight="normal" text-anchor="start" fill="#262626">E2</text>
<text x="445.56" y="2770" font-size="46.5" font-family="'Liberation Sans', Arial, sans-serif" font-weight="normal" text-anchor="end" fill="#262626">Twist</text>
<text x="452.15" y="2817" font-size="46.5" font-family="'Liberation Sans', Arial, sans-serif" font-weight="normal" text-anchor="end" fill="#262626">Minor_Groove_Width</text>
<text x="447.86" y="2868.9" font-size="46.5" font-family="'Liberation Sans', Arial, sans-serif" font-weight="normal" text-anchor="end" fill="#262626">Propeller_Twist</text>
<text x="449.91" y="2922.1" font-size="46.5" font-family="'Liberation Sans', Arial, sans-serif" font-weight="normal" text-anchor="end" fill="#262626">Roll</text>
<text x="500.74" y="2974.9" font-size="29.5" font-family="'Liberation Sans', Arial, sans-serif" font-weight="normal" text-anchor="start" fill="#262626">0</text>
<text x="583.3" y="2974.9" font-size="29.5" font-family="'Liberation Sans', Arial, sans-serif" font-weight="normal" text-anchor="start" fill="#262626">1</text>
<text x="666.74" y="2974.9" font-size="29.5" font-family="'Liberation Sans', Arial, sans-serif" font-weight="normal" text-anchor="start" fill="#262626">2</text>
<text x="749.89" y="2974.9" font-size="29.5" font-family="'Liberation Sans', Arial, sans-serif" font-weight="normal" text-anchor="start" fill="#262626">3</text>
<text x="832.89" y="2974.9" font-size="29.5" font-family="'Liberation Sans', Arial, sans-serif" font-weight="normal" text-anchor="start" fill="#262626">4</text>
<text x="915.74" y="2974.9" font-size="29.5" font-family="'Liberation Sans', Arial, sans-serif" font-weight="normal" text-anchor="start" fill="#262626">5</text>
<text x="998.74" y="2974.9" font-size="29.5" font-family="'Liberation Sans', Arial, sans-serif" font-weight="normal" text-anchor="start" fill="#262626">6</text>
<text x="1081.74" y="2974.9" font-size="29.5" font-family="'Liberation Sans', Arial, sans-serif" font-weight="normal" text-anchor="start" fill="#262626">7</text>
<text x="1164.89" y="2974.9" font-size="29.5" font-family="'Liberation Sans', Arial, sans-serif" font-weight="normal" text-anchor="start" fill="#262626">8</text>
<text x="1247.74" y="2974.9" font-size="29.5" font-family="'Liberation Sans', Arial, sans-serif" font-weight="normal" text-anchor="start" fill="#262626">9</text>
<text x="1321.89" y="2974.9" font-size="29.5" font-family="'Liberation Sans', Arial, sans-serif" font-weight="normal" text-anchor="start" fill="#262626">10</text>
<text x="1406.22" y="2974.9" font-size="29.5" font-family="'Liberation Sans', Arial, sans-serif" font-weight="normal" text-anchor="start" fill="#262626">11</text>
<text x="1488.04" y="2974.9" font-size="29.5" font-family="'Liberation Sans', Arial, sans-serif" font-weight="normal" text-anchor="start" fill="#262626">12</text>
<text x="1571.04" y="2974.9" font-size="29.5" font-family="'Liberation Sans', Arial, sans-serif" font-weight="normal" text-anchor="start" fill="#262626">13</text>
<defs><linearGradient id="cb" x1="0" y1="0" x2="0" y2="1"><stop offset="0.0000" stop-color="#8c3400"/><stop offset="0.0417" stop-color="#a34000"/><stop offset="0.0833" stop-color="#bb4d00"/><stop offset="0.1250" stop-color="#d36000"/><stop offset="0.1667" stop-color="#eb7900"/><stop offset="0.2083" stop-color="#ff9009"/><stop offset="0.2500" stop-color="#ffa535"/><stop offset="0.2917" stop-color="#ffba61"/><stop offset="0.3333" stop-color="#ffca85"/><stop offset="0.3750" stop-color="#fed9a8"/><stop offset="0.4167" stop-color="#fde5c5"/><stop offset="0.4583" stop-color="#faeedd"/><stop offset="0.5000" stop-color="#f7f6f4"/><stop offset="0.5417" stop-color="#ebebf2"/><stop offset="0.5833" stop-color="#dfe0ef"/><stop offset="0.6250" stop-color="#d0d0e8"/><stop offset="0.6667" stop-color="#c1bcde"/><stop offset="0.7083" stop-color="#b0a7d3"/><stop offset="0.7500" stop-color="#9b8ec3"/><stop offset="0.7917" stop-color="#8675b3"/><stop offset="0.8333" stop-color="#7555a4"/><stop offset="0.8750" stop-color="#643295"/><stop offset="0.9167" stop-color="#521981"/><stop offset="0.9583" stop-color="#400c66"/><stop offset="1.0000" stop-color="#2d004b"/></linearGradient></defs>
<rect x="1732.4" y="537.4" width="45.30" height="912.30" fill="url(#cb)"/>
<text x="1796.84" y="545" font-size="29" font-family="'Liberation Sans', Arial, sans-serif" font-weight="normal" text-anchor="start" fill="#1a1a1a">3</text>
<text x="1796.55" y="697.05" font-size="29" font-family="'Liberation Sans', Arial, sans-serif" font-weight="normal" text-anchor="start" fill="#1a1a1a">2</text>
<text x="1795.68" y="849.1" font-size="29" font-family="'Liberation Sans', Arial, sans-serif" font-weight="normal" text-anchor="start" fill="#1a1a1a">1</text>
<text x="1796.84" y="1001.15" font-size="29" font-family="'Liberation Sans', Arial, sans-serif" font-weight="normal" text-anchor="start" fill="#1a1a1a">0</text>
<text x="1796.55" y="1153.2" font-size="29" font-family="'Liberation Sans', Arial, sans-serif" font-weight="normal" text-anchor="start" fill="#1a1a1a">−1</text>
<text x="1796.55" y="1305.25" font-size="29" font-family="'Liberation Sans', Arial, sans-serif" font-weight="normal" text-anchor="start" fill="#1a1a1a">−2</text>
<text x="1796.55" y="1457.3" font-size="29" font-family="'Liberation Sans', Arial, sans-serif" font-weight="normal" text-anchor="start" fill="#1a1a1a">−3</text>
<text x="1738.88" y="465.3" font-size="24.2" font-family="'DejaVu Sans', Verdana, sans-serif" font-weight="normal" text-anchor="start" fill="#000">shape</text>
<text x="1709.48" y="493.1" font-size="24.2" font-family="'DejaVu Sans', Verdana, sans-serif" font-weight="normal" text-anchor="start" fill="#000">preference</text>
<rect x="1739.1" y="2028.8" width="45.50" height="913.30" fill="url(#cb)"/>
<text x="1803.34" y="2036.4" font-size="29" font-family="'Liberation Sans', Arial, sans-serif" font-weight="normal" text-anchor="start" fill="#1a1a1a">3</text>
<text x="1803.05" y="2188.62" font-size="29" font-family="'Liberation Sans', Arial, sans-serif" font-weight="normal" text-anchor="start" fill="#1a1a1a">2</text>
<text x="1802.18" y="2340.83" font-size="29" font-family="'Liberation Sans', Arial, sans-serif" font-weight="normal" text-anchor="start" fill="#1a1a1a">1</text>
<text x="1803.34" y="2493.05" font-size="29" font-family="'Liberation Sans', Arial, sans-serif" font-weight="normal" text-anchor="start" fill="#1a1a1a">0</text>
<text x="1803.05" y="2645.27" font-size="29" font-family="'Liberation Sans', Arial, sans-serif" font-weight="normal" text-anchor="start" fill="#1a1a1a">−1</text>
<text x="1803.05" y="2797.48" font-size="29" font-family="'Liberation Sans', Arial, sans-serif" font-weight="normal" text-anchor="start" fill="#1a1a1a">−2</text>
<text x="1803.05" y="2949.7" font-size="29" font-family="'Liberation Sans', Arial, sans-serif" font-weight="normal" text-anchor="start" fill="#1a1a1a">−3</text>
<text x="1745.88" y="1958" font-size="24.2" font-family="'DejaVu Sans', Verdana, sans-serif" font-weight="normal" text-anchor="start" fill="#000">shape</text>
<text x="1716.48" y="1985.7" font-size="24.2" font-family="'DejaVu Sans', Verdana, sans-serif" font-weight="normal" text-anchor="start" fill="#000">preference</text>
</svg>
</body></html>
